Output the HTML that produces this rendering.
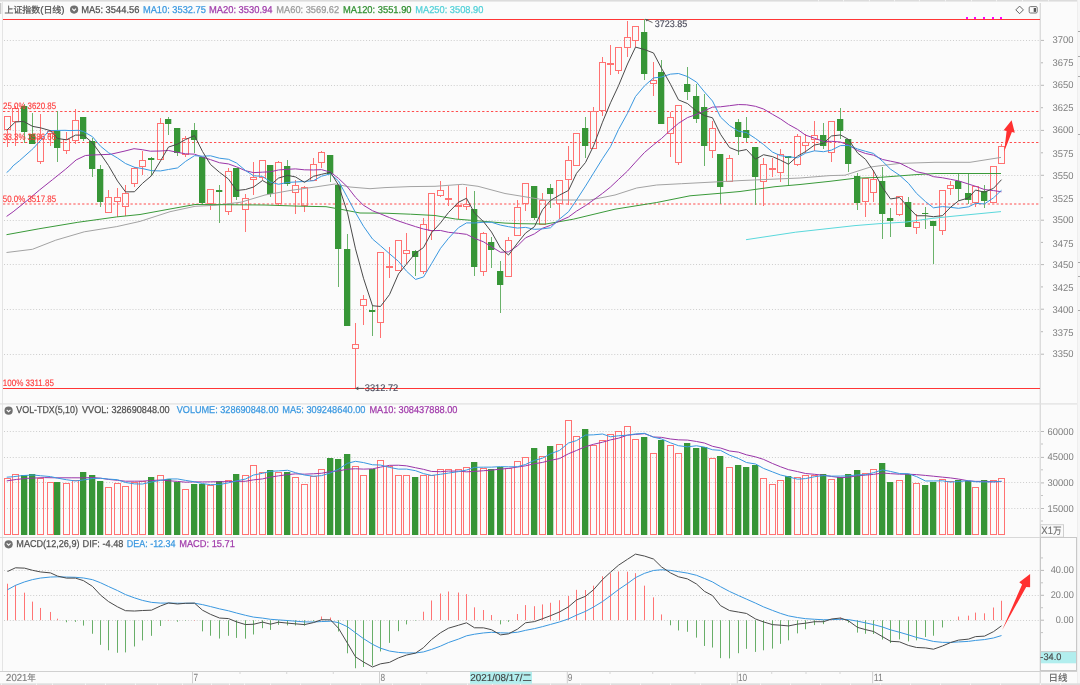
<!DOCTYPE html>
<html><head><meta charset="utf-8"><style>
html,body{margin:0;padding:0;background:#fbfbfb;}
body{width:1080px;height:685px;overflow:hidden;}
svg{display:block;}
text{font-family:"Liberation Sans","Noto Sans CJK SC",sans-serif;text-rendering:geometricPrecision;}
</style></head><body>
<svg width="1080" height="685" viewBox="0 0 1080 685" font-family="Liberation Sans, Noto Sans CJK SC, sans-serif">
<rect x="0" y="0" width="1080" height="685" fill="#fbfbfb"/>
<rect x="0" y="0" width="1080" height="1.6" fill="#dcdcdc"/>
<rect x="2" y="2" width="1" height="669" fill="#e4e4e4"/>
<rect x="0" y="3" width="1.3" height="11" fill="#c8c8c8"/>
<rect x="1039.6" y="3" width="1.4" height="682" fill="#dcdcdc"/>
<rect x="1077" y="0" width="3" height="685" fill="#f6f6f6"/>
<rect x="1077" y="0" width="1" height="685" fill="#eeeeee"/>
<rect x="1078" y="31" width="2" height="1" fill="#a8a8a8"/>
<rect x="1078" y="56" width="2" height="1" fill="#a8a8a8"/>
<rect x="1078" y="76" width="2" height="1" fill="#a8a8a8"/>
<rect x="1078" y="134" width="2" height="1" fill="#a8a8a8"/>
<rect x="1078" y="262" width="2" height="1" fill="#a8a8a8"/>
<rect x="1078" y="276" width="2" height="1" fill="#a8a8a8"/>
<rect x="1078" y="310" width="2" height="1" fill="#a8a8a8"/>
<rect x="0" y="403.3" width="1077" height="1.2" fill="#e0e0e0"/>
<rect x="0" y="537" width="1077" height="1" fill="#d8d8d8"/>
<rect x="0" y="671" width="1077" height="1" fill="#d0d0d0"/>
<rect x="0" y="683.3" width="1080" height="1.7" fill="#dedede"/>
<rect x="818" y="0" width="1" height="1.6" fill="#f2f2f2"/>
<rect x="843" y="0" width="1" height="1.6" fill="#f2f2f2"/>
<rect x="869" y="0" width="1" height="1.6" fill="#f2f2f2"/>
<rect x="894" y="0" width="1" height="1.6" fill="#f2f2f2"/>
<rect x="919" y="0" width="1" height="1.6" fill="#f2f2f2"/>
<rect x="945" y="0" width="1" height="1.6" fill="#f2f2f2"/>
<rect x="971" y="0" width="1" height="1.6" fill="#f2f2f2"/>
<rect x="996" y="0" width="1" height="1.6" fill="#f2f2f2"/>
<rect x="1022" y="0" width="1" height="1.6" fill="#f2f2f2"/>
<rect x="1048" y="0" width="1" height="1.6" fill="#f2f2f2"/>
<rect x="1" y="683.3" width="1" height="1.7" fill="#f4f4f4"/>
<rect x="36" y="683.3" width="1" height="1.7" fill="#f4f4f4"/>
<rect x="52" y="683.3" width="1" height="1.7" fill="#f4f4f4"/>
<rect x="85" y="683.3" width="1" height="1.7" fill="#f4f4f4"/>
<rect x="105" y="683.3" width="1" height="1.7" fill="#f4f4f4"/>
<rect x="135" y="683.3" width="1" height="1.7" fill="#f4f4f4"/>
<rect x="157" y="683.3" width="1" height="1.7" fill="#f4f4f4"/>
<rect x="182" y="683.3" width="1" height="1.7" fill="#f4f4f4"/>
<rect x="211" y="683.3" width="1" height="1.7" fill="#f4f4f4"/>
<rect x="229" y="683.3" width="1" height="1.7" fill="#f4f4f4"/>
<rect x="244" y="683.3" width="1" height="1.7" fill="#f4f4f4"/>
<rect x="270" y="683.3" width="1" height="1.7" fill="#f4f4f4"/>
<rect x="300" y="683.3" width="1" height="1.7" fill="#f4f4f4"/>
<rect x="330" y="683.3" width="1" height="1.7" fill="#f4f4f4"/>
<rect x="360" y="683.3" width="1" height="1.7" fill="#f4f4f4"/>
<rect x="392" y="683.3" width="1" height="1.7" fill="#f4f4f4"/>
<rect x="420" y="683.3" width="1" height="1.7" fill="#f4f4f4"/>
<rect x="467" y="683.3" width="1" height="1.7" fill="#f4f4f4"/>
<rect x="492" y="683.3" width="1" height="1.7" fill="#f4f4f4"/>
<rect x="520" y="683.3" width="1" height="1.7" fill="#f4f4f4"/>
<rect x="550" y="683.3" width="1" height="1.7" fill="#f4f4f4"/>
<rect x="580" y="683.3" width="1" height="1.7" fill="#f4f4f4"/>
<rect x="610" y="683.3" width="1" height="1.7" fill="#f4f4f4"/>
<rect x="640" y="683.3" width="1" height="1.7" fill="#f4f4f4"/>
<rect x="670" y="683.3" width="1" height="1.7" fill="#f4f4f4"/>
<rect x="700" y="683.3" width="1" height="1.7" fill="#f4f4f4"/>
<rect x="730" y="683.3" width="1" height="1.7" fill="#f4f4f4"/>
<rect x="760" y="683.3" width="1" height="1.7" fill="#f4f4f4"/>
<rect x="790" y="683.3" width="1" height="1.7" fill="#f4f4f4"/>
<rect x="820" y="683.3" width="1" height="1.7" fill="#f4f4f4"/>
<rect x="850" y="683.3" width="1" height="1.7" fill="#f4f4f4"/>
<rect x="880" y="683.3" width="1" height="1.7" fill="#f4f4f4"/>
<rect x="910" y="683.3" width="1" height="1.7" fill="#f4f4f4"/>
<rect x="940" y="683.3" width="1" height="1.7" fill="#f4f4f4"/>
<rect x="970" y="683.3" width="1" height="1.7" fill="#f4f4f4"/>
<rect x="1000" y="683.3" width="1" height="1.7" fill="#f4f4f4"/>
<rect x="1040" y="683.3" width="1" height="1.7" fill="#f4f4f4"/>
<rect x="1060" y="683.3" width="1" height="1.7" fill="#f4f4f4"/>
<line x1="4" y1="40.5" x2="1040" y2="40.5" stroke="#cdcdcd" stroke-width="1" stroke-dasharray="1 1.92"/>
<line x1="4" y1="85.5" x2="1040" y2="85.5" stroke="#cdcdcd" stroke-width="1" stroke-dasharray="1 1.92"/>
<line x1="4" y1="130.5" x2="1040" y2="130.5" stroke="#cdcdcd" stroke-width="1" stroke-dasharray="1 1.92"/>
<line x1="4" y1="175.5" x2="1040" y2="175.5" stroke="#cdcdcd" stroke-width="1" stroke-dasharray="1 1.92"/>
<line x1="4" y1="220.5" x2="1040" y2="220.5" stroke="#cdcdcd" stroke-width="1" stroke-dasharray="1 1.92"/>
<line x1="4" y1="264.5" x2="1040" y2="264.5" stroke="#cdcdcd" stroke-width="1" stroke-dasharray="1 1.92"/>
<line x1="4" y1="309.5" x2="1040" y2="309.5" stroke="#cdcdcd" stroke-width="1" stroke-dasharray="1 1.92"/>
<line x1="4" y1="354.5" x2="1040" y2="354.5" stroke="#cdcdcd" stroke-width="1" stroke-dasharray="1 1.92"/>
<rect x="1041" y="39.9" width="3" height="1" fill="#b8b8b8"/>
<rect x="1041" y="62.3" width="2" height="1" fill="#b8b8b8"/>
<rect x="1041" y="84.8" width="3" height="1" fill="#b8b8b8"/>
<rect x="1041" y="107.2" width="2" height="1" fill="#b8b8b8"/>
<rect x="1041" y="129.9" width="3" height="1" fill="#b8b8b8"/>
<rect x="1041" y="152.3" width="2" height="1" fill="#b8b8b8"/>
<rect x="1041" y="174.8" width="3" height="1" fill="#b8b8b8"/>
<rect x="1041" y="197.2" width="2" height="1" fill="#b8b8b8"/>
<rect x="1041" y="219.7" width="3" height="1" fill="#b8b8b8"/>
<rect x="1041" y="241.9" width="2" height="1" fill="#b8b8b8"/>
<rect x="1041" y="264.1" width="3" height="1" fill="#b8b8b8"/>
<rect x="1041" y="286.4" width="2" height="1" fill="#b8b8b8"/>
<rect x="1041" y="308.7" width="3" height="1" fill="#b8b8b8"/>
<rect x="1041" y="331.2" width="2" height="1" fill="#b8b8b8"/>
<rect x="1041" y="353.7" width="3" height="1" fill="#b8b8b8"/>
<rect x="3" y="19" width="1037" height="1" fill="#ff3535"/>
<rect x="3" y="388" width="1037" height="1" fill="#ff3535"/>
<line x1="3" y1="111.5" x2="1040" y2="111.5" stroke="#ff4d4d" stroke-width="1" stroke-dasharray="2.3 2.096"/>
<line x1="3" y1="142.5" x2="1040" y2="142.5" stroke="#ff4d4d" stroke-width="1" stroke-dasharray="2.3 2.096"/>
<line x1="3" y1="204.0" x2="1040" y2="204.0" stroke="#ff4d4d" stroke-width="1" stroke-dasharray="2.3 2.096"/>
<rect x="7" y="130" width="1" height="17" fill="#ff7272"/>
<rect x="4.5" y="116.5" width="6" height="13" fill="none" stroke="#ff7272" stroke-width="1"/>
<rect x="15" y="106" width="1" height="2" fill="#ff7272"/>
<rect x="15" y="122" width="1" height="24" fill="#ff7272"/>
<rect x="12.5" y="108.5" width="6" height="13" fill="none" stroke="#ff7272" stroke-width="1"/>
<rect x="24" y="104" width="1" height="39" fill="#6ab26a"/>
<rect x="21" y="106" width="6" height="26" fill="#379637"/>
<rect x="27" y="106" width="1" height="26" fill="#379637" opacity="0.3"/>
<rect x="32" y="113" width="1" height="31" fill="#6ab26a"/>
<rect x="29" y="134" width="6" height="10" fill="#379637"/>
<rect x="35" y="134" width="1" height="10" fill="#379637" opacity="0.3"/>
<rect x="40" y="114" width="1" height="24" fill="#ff7272"/>
<rect x="40" y="162" width="1" height="2" fill="#ff7272"/>
<rect x="37.5" y="138.5" width="6" height="23" fill="none" stroke="#ff7272" stroke-width="1"/>
<rect x="50" y="130" width="1" height="1" fill="#ff7272"/>
<rect x="50" y="134" width="1" height="12" fill="#ff7272"/>
<rect x="47.5" y="131.5" width="6" height="2" fill="none" stroke="#ff7272" stroke-width="1"/>
<rect x="57" y="111" width="1" height="51" fill="#6ab26a"/>
<rect x="54" y="131" width="6" height="17" fill="#379637"/>
<rect x="60" y="131" width="1" height="17" fill="#379637" opacity="0.3"/>
<rect x="66" y="132" width="1" height="7" fill="#ff7272"/>
<rect x="66" y="151" width="1" height="3" fill="#ff7272"/>
<rect x="63.5" y="139.5" width="6" height="11" fill="none" stroke="#ff7272" stroke-width="1"/>
<rect x="75" y="109" width="1" height="11" fill="#ff7272"/>
<rect x="75" y="141" width="1" height="3" fill="#ff7272"/>
<rect x="72.5" y="120.5" width="6" height="20" fill="none" stroke="#ff7272" stroke-width="1"/>
<rect x="83" y="117" width="1" height="24" fill="#6ab26a"/>
<rect x="80" y="117" width="6" height="22" fill="#379637"/>
<rect x="86" y="117" width="1" height="22" fill="#379637" opacity="0.3"/>
<rect x="92" y="138" width="1" height="39" fill="#6ab26a"/>
<rect x="89" y="141" width="6" height="28" fill="#379637"/>
<rect x="95" y="141" width="1" height="28" fill="#379637" opacity="0.3"/>
<rect x="100" y="165" width="1" height="42" fill="#6ab26a"/>
<rect x="97" y="169" width="6" height="33" fill="#379637"/>
<rect x="103" y="169" width="1" height="33" fill="#379637" opacity="0.3"/>
<rect x="108" y="190" width="1" height="7" fill="#ff7272"/>
<rect x="105.5" y="197.5" width="6" height="15" fill="none" stroke="#ff7272" stroke-width="1"/>
<rect x="117" y="188" width="1" height="9" fill="#ff7272"/>
<rect x="117" y="202" width="1" height="15" fill="#ff7272"/>
<rect x="114.5" y="197.5" width="6" height="4" fill="none" stroke="#ff7272" stroke-width="1"/>
<rect x="125" y="185" width="1" height="8" fill="#ff7272"/>
<rect x="125" y="207" width="1" height="9" fill="#ff7272"/>
<rect x="122.5" y="193.5" width="6" height="13" fill="none" stroke="#ff7272" stroke-width="1"/>
<rect x="134" y="167" width="1" height="1" fill="#ff7272"/>
<rect x="134" y="184" width="1" height="3" fill="#ff7272"/>
<rect x="131.5" y="168.5" width="6" height="15" fill="none" stroke="#ff7272" stroke-width="1"/>
<rect x="142" y="151" width="1" height="9" fill="#ff7272"/>
<rect x="142" y="167" width="1" height="8" fill="#ff7272"/>
<rect x="139.5" y="160.5" width="6" height="6" fill="none" stroke="#ff7272" stroke-width="1"/>
<rect x="151" y="157" width="1" height="19" fill="#6ab26a"/>
<rect x="148" y="158" width="6" height="2" fill="#379637"/>
<rect x="154" y="158" width="1" height="2" fill="#379637" opacity="0.3"/>
<rect x="160" y="118" width="1" height="5" fill="#ff7272"/>
<rect x="157.5" y="123.5" width="6" height="36" fill="none" stroke="#ff7272" stroke-width="1"/>
<rect x="168" y="117" width="1" height="18" fill="#6ab26a"/>
<rect x="165" y="119" width="6" height="5" fill="#379637"/>
<rect x="171" y="119" width="1" height="5" fill="#379637" opacity="0.3"/>
<rect x="177" y="128" width="1" height="28" fill="#6ab26a"/>
<rect x="174" y="128" width="6" height="25" fill="#379637"/>
<rect x="180" y="128" width="1" height="25" fill="#379637" opacity="0.3"/>
<rect x="185" y="136" width="1" height="2" fill="#ff7272"/>
<rect x="185" y="155" width="1" height="2" fill="#ff7272"/>
<rect x="182.5" y="138.5" width="6" height="16" fill="none" stroke="#ff7272" stroke-width="1"/>
<rect x="194" y="123" width="1" height="30" fill="#6ab26a"/>
<rect x="191" y="130" width="6" height="10" fill="#379637"/>
<rect x="197" y="130" width="1" height="10" fill="#379637" opacity="0.3"/>
<rect x="202" y="157" width="1" height="48" fill="#6ab26a"/>
<rect x="199" y="157" width="6" height="46" fill="#379637"/>
<rect x="205" y="157" width="1" height="46" fill="#379637" opacity="0.3"/>
<rect x="210" y="204" width="1" height="6" fill="#ff7272"/>
<rect x="207.5" y="189.5" width="6" height="14" fill="none" stroke="#ff7272" stroke-width="1"/>
<rect x="219" y="185" width="1" height="38" fill="#6ab26a"/>
<rect x="216" y="190" width="6" height="2" fill="#379637"/>
<rect x="222" y="190" width="1" height="2" fill="#379637" opacity="0.3"/>
<rect x="228" y="168" width="1" height="3" fill="#ff7272"/>
<rect x="228" y="212" width="1" height="3" fill="#ff7272"/>
<rect x="225.5" y="171.5" width="6" height="40" fill="none" stroke="#ff7272" stroke-width="1"/>
<rect x="236" y="168" width="1" height="32" fill="#6ab26a"/>
<rect x="233" y="168" width="6" height="29" fill="#379637"/>
<rect x="239" y="168" width="1" height="29" fill="#379637" opacity="0.3"/>
<rect x="245" y="194" width="1" height="4" fill="#ff7272"/>
<rect x="245" y="210" width="1" height="22" fill="#ff7272"/>
<rect x="242.5" y="198.5" width="6" height="11" fill="none" stroke="#ff7272" stroke-width="1"/>
<rect x="253" y="162" width="1" height="15" fill="#ff7272"/>
<rect x="253" y="180" width="1" height="15" fill="#ff7272"/>
<rect x="250.5" y="177.5" width="6" height="2" fill="none" stroke="#ff7272" stroke-width="1"/>
<rect x="262" y="178" width="1" height="2" fill="#ff7272"/>
<rect x="259.5" y="160.5" width="6" height="17" fill="none" stroke="#ff7272" stroke-width="1"/>
<rect x="270" y="165" width="1" height="32" fill="#6ab26a"/>
<rect x="267" y="165" width="6" height="29" fill="#379637"/>
<rect x="273" y="165" width="1" height="29" fill="#379637" opacity="0.3"/>
<rect x="278" y="161" width="1" height="1" fill="#ff7272"/>
<rect x="278" y="204" width="1" height="2" fill="#ff7272"/>
<rect x="275.5" y="162.5" width="6" height="41" fill="none" stroke="#ff7272" stroke-width="1"/>
<rect x="287" y="160" width="1" height="26" fill="#6ab26a"/>
<rect x="284" y="166" width="6" height="18" fill="#379637"/>
<rect x="290" y="166" width="1" height="18" fill="#379637" opacity="0.3"/>
<rect x="295" y="180" width="1" height="5" fill="#ff7272"/>
<rect x="295" y="193" width="1" height="21" fill="#ff7272"/>
<rect x="292.5" y="185.5" width="6" height="7" fill="none" stroke="#ff7272" stroke-width="1"/>
<rect x="304" y="186" width="1" height="1" fill="#ff7272"/>
<rect x="304" y="206" width="1" height="6" fill="#ff7272"/>
<rect x="301.5" y="187.5" width="6" height="18" fill="none" stroke="#ff7272" stroke-width="1"/>
<rect x="313" y="158" width="1" height="6" fill="#ff7272"/>
<rect x="310.5" y="164.5" width="6" height="16" fill="none" stroke="#ff7272" stroke-width="1"/>
<rect x="321" y="151" width="1" height="1" fill="#ff7272"/>
<rect x="321" y="163" width="1" height="5" fill="#ff7272"/>
<rect x="318.5" y="152.5" width="6" height="10" fill="none" stroke="#ff7272" stroke-width="1"/>
<rect x="330" y="155" width="1" height="27" fill="#6ab26a"/>
<rect x="327" y="155" width="6" height="19" fill="#379637"/>
<rect x="333" y="155" width="1" height="19" fill="#379637" opacity="0.3"/>
<rect x="338" y="185" width="1" height="102" fill="#6ab26a"/>
<rect x="335" y="185" width="6" height="64" fill="#379637"/>
<rect x="341" y="185" width="1" height="64" fill="#379637" opacity="0.3"/>
<rect x="347" y="234" width="1" height="92" fill="#6ab26a"/>
<rect x="344" y="249" width="6" height="77" fill="#379637"/>
<rect x="350" y="249" width="1" height="77" fill="#379637" opacity="0.3"/>
<rect x="355" y="323" width="1" height="21" fill="#ff7272"/>
<rect x="355" y="349" width="1" height="39" fill="#ff7272"/>
<rect x="352.5" y="344.5" width="6" height="4" fill="none" stroke="#ff7272" stroke-width="1"/>
<rect x="363" y="295" width="1" height="4" fill="#ff7272"/>
<rect x="363" y="306" width="1" height="19" fill="#ff7272"/>
<rect x="360.5" y="299.5" width="6" height="6" fill="none" stroke="#ff7272" stroke-width="1"/>
<rect x="372" y="305" width="1" height="31" fill="#6ab26a"/>
<rect x="369" y="310" width="6" height="2" fill="#379637"/>
<rect x="375" y="310" width="1" height="2" fill="#379637" opacity="0.3"/>
<rect x="380" y="323" width="1" height="15" fill="#ff7272"/>
<rect x="377.5" y="252.5" width="6" height="70" fill="none" stroke="#ff7272" stroke-width="1"/>
<rect x="389" y="247" width="1" height="19" fill="#ff7272"/>
<rect x="389" y="268" width="1" height="10" fill="#ff7272"/>
<rect x="386.5" y="266.5" width="6" height="1" fill="none" stroke="#ff7272" stroke-width="1"/>
<rect x="395.5" y="240.5" width="6" height="30" fill="none" stroke="#ff7272" stroke-width="1"/>
<rect x="406" y="233" width="1" height="17" fill="#ff7272"/>
<rect x="406" y="254" width="1" height="10" fill="#ff7272"/>
<rect x="403.5" y="250.5" width="6" height="3" fill="none" stroke="#ff7272" stroke-width="1"/>
<rect x="415" y="250" width="1" height="26" fill="#6ab26a"/>
<rect x="412" y="251" width="6" height="6" fill="#379637"/>
<rect x="418" y="251" width="1" height="6" fill="#379637" opacity="0.3"/>
<rect x="423" y="218" width="1" height="6" fill="#ff7272"/>
<rect x="423" y="272" width="1" height="2" fill="#ff7272"/>
<rect x="420.5" y="224.5" width="6" height="47" fill="none" stroke="#ff7272" stroke-width="1"/>
<rect x="431" y="231" width="1" height="9" fill="#ff7272"/>
<rect x="428.5" y="193.5" width="6" height="37" fill="none" stroke="#ff7272" stroke-width="1"/>
<rect x="440" y="181" width="1" height="9" fill="#ff7272"/>
<rect x="440" y="196" width="1" height="1" fill="#ff7272"/>
<rect x="437.5" y="190.5" width="6" height="5" fill="none" stroke="#ff7272" stroke-width="1"/>
<rect x="448" y="186" width="1" height="12" fill="#ff7272"/>
<rect x="448" y="200" width="1" height="6" fill="#ff7272"/>
<rect x="445.5" y="198.5" width="6" height="1" fill="none" stroke="#ff7272" stroke-width="1"/>
<rect x="458" y="185" width="1" height="20" fill="#ff7272"/>
<rect x="458" y="207" width="1" height="12" fill="#ff7272"/>
<rect x="455.5" y="205.5" width="6" height="1" fill="none" stroke="#ff7272" stroke-width="1"/>
<rect x="466" y="187" width="1" height="17" fill="#ff7272"/>
<rect x="466" y="207" width="1" height="3" fill="#ff7272"/>
<rect x="463.5" y="204.5" width="6" height="2" fill="none" stroke="#ff7272" stroke-width="1"/>
<rect x="474" y="191" width="1" height="85" fill="#6ab26a"/>
<rect x="471" y="209" width="6" height="58" fill="#379637"/>
<rect x="477" y="209" width="1" height="58" fill="#379637" opacity="0.3"/>
<rect x="483" y="232" width="1" height="1" fill="#ff7272"/>
<rect x="483" y="272" width="1" height="4" fill="#ff7272"/>
<rect x="480.5" y="233.5" width="6" height="38" fill="none" stroke="#ff7272" stroke-width="1"/>
<rect x="491" y="237" width="1" height="31" fill="#6ab26a"/>
<rect x="488" y="242" width="6" height="8" fill="#379637"/>
<rect x="494" y="242" width="1" height="8" fill="#379637" opacity="0.3"/>
<rect x="500" y="261" width="1" height="52" fill="#6ab26a"/>
<rect x="497" y="271" width="6" height="14" fill="#379637"/>
<rect x="503" y="271" width="1" height="14" fill="#379637" opacity="0.3"/>
<rect x="508" y="237" width="1" height="3" fill="#ff7272"/>
<rect x="505.5" y="240.5" width="6" height="36" fill="none" stroke="#ff7272" stroke-width="1"/>
<rect x="517" y="200" width="1" height="7" fill="#ff7272"/>
<rect x="514.5" y="207.5" width="6" height="28" fill="none" stroke="#ff7272" stroke-width="1"/>
<rect x="525" y="204" width="1" height="7" fill="#ff7272"/>
<rect x="522.5" y="183.5" width="6" height="20" fill="none" stroke="#ff7272" stroke-width="1"/>
<rect x="534" y="186" width="1" height="34" fill="#6ab26a"/>
<rect x="531" y="186" width="6" height="32" fill="#379637"/>
<rect x="537" y="186" width="1" height="32" fill="#379637" opacity="0.3"/>
<rect x="542" y="193" width="1" height="7" fill="#ff7272"/>
<rect x="539.5" y="200.5" width="6" height="24" fill="none" stroke="#ff7272" stroke-width="1"/>
<rect x="550" y="184" width="1" height="24" fill="#6ab26a"/>
<rect x="547" y="188" width="6" height="6" fill="#379637"/>
<rect x="553" y="188" width="1" height="6" fill="#379637" opacity="0.3"/>
<rect x="559" y="204" width="1" height="15" fill="#ff7272"/>
<rect x="556.5" y="180.5" width="6" height="23" fill="none" stroke="#ff7272" stroke-width="1"/>
<rect x="568" y="146" width="1" height="14" fill="#ff7272"/>
<rect x="568" y="180" width="1" height="25" fill="#ff7272"/>
<rect x="565.5" y="160.5" width="6" height="19" fill="none" stroke="#ff7272" stroke-width="1"/>
<rect x="573.5" y="133.5" width="6" height="32" fill="none" stroke="#ff7272" stroke-width="1"/>
<rect x="585" y="117" width="1" height="41" fill="#6ab26a"/>
<rect x="582" y="128" width="6" height="18" fill="#379637"/>
<rect x="588" y="128" width="1" height="18" fill="#379637" opacity="0.3"/>
<rect x="593" y="107" width="1" height="4" fill="#ff7272"/>
<rect x="590.5" y="111.5" width="6" height="37" fill="none" stroke="#ff7272" stroke-width="1"/>
<rect x="602" y="57" width="1" height="5" fill="#ff7272"/>
<rect x="602" y="111" width="1" height="5" fill="#ff7272"/>
<rect x="599.5" y="62.5" width="6" height="48" fill="none" stroke="#ff7272" stroke-width="1"/>
<rect x="610" y="45" width="1" height="18" fill="#ff7272"/>
<rect x="610" y="65" width="1" height="10" fill="#ff7272"/>
<rect x="607.5" y="63.5" width="6" height="1" fill="none" stroke="#ff7272" stroke-width="1"/>
<rect x="618" y="71" width="1" height="3" fill="#ff7272"/>
<rect x="615.5" y="47.5" width="6" height="23" fill="none" stroke="#ff7272" stroke-width="1"/>
<rect x="627" y="21" width="1" height="16" fill="#ff7272"/>
<rect x="627" y="48" width="1" height="9" fill="#ff7272"/>
<rect x="624.5" y="37.5" width="6" height="10" fill="none" stroke="#ff7272" stroke-width="1"/>
<rect x="635" y="41" width="1" height="6" fill="#ff7272"/>
<rect x="632.5" y="26.5" width="6" height="14" fill="none" stroke="#ff7272" stroke-width="1"/>
<rect x="644" y="19" width="1" height="61" fill="#6ab26a"/>
<rect x="641" y="32" width="6" height="42" fill="#379637"/>
<rect x="647" y="32" width="1" height="42" fill="#379637" opacity="0.3"/>
<rect x="653" y="62" width="1" height="18" fill="#ff7272"/>
<rect x="653" y="84" width="1" height="12" fill="#ff7272"/>
<rect x="650.5" y="80.5" width="6" height="3" fill="none" stroke="#ff7272" stroke-width="1"/>
<rect x="661" y="60" width="1" height="64" fill="#6ab26a"/>
<rect x="658" y="72" width="6" height="52" fill="#379637"/>
<rect x="664" y="72" width="1" height="52" fill="#379637" opacity="0.3"/>
<rect x="670" y="112" width="1" height="5" fill="#ff7272"/>
<rect x="670" y="134" width="1" height="23" fill="#ff7272"/>
<rect x="667.5" y="117.5" width="6" height="16" fill="none" stroke="#ff7272" stroke-width="1"/>
<rect x="678" y="163" width="1" height="2" fill="#ff7272"/>
<rect x="675.5" y="105.5" width="6" height="57" fill="none" stroke="#ff7272" stroke-width="1"/>
<rect x="687" y="67" width="1" height="33" fill="#6ab26a"/>
<rect x="684" y="84" width="6" height="8" fill="#379637"/>
<rect x="690" y="84" width="1" height="8" fill="#379637" opacity="0.3"/>
<rect x="696" y="84" width="1" height="39" fill="#6ab26a"/>
<rect x="693" y="96" width="6" height="23" fill="#379637"/>
<rect x="699" y="96" width="1" height="23" fill="#379637" opacity="0.3"/>
<rect x="704" y="94" width="1" height="72" fill="#6ab26a"/>
<rect x="701" y="107" width="6" height="39" fill="#379637"/>
<rect x="707" y="107" width="1" height="39" fill="#379637" opacity="0.3"/>
<rect x="712" y="121" width="1" height="7" fill="#ff7272"/>
<rect x="712" y="151" width="1" height="7" fill="#ff7272"/>
<rect x="709.5" y="128.5" width="6" height="22" fill="none" stroke="#ff7272" stroke-width="1"/>
<rect x="720" y="154" width="1" height="50" fill="#6ab26a"/>
<rect x="717" y="154" width="6" height="33" fill="#379637"/>
<rect x="723" y="154" width="1" height="33" fill="#379637" opacity="0.3"/>
<rect x="729" y="155" width="1" height="3" fill="#ff7272"/>
<rect x="726.5" y="158.5" width="6" height="23" fill="none" stroke="#ff7272" stroke-width="1"/>
<rect x="738" y="119" width="1" height="36" fill="#6ab26a"/>
<rect x="735" y="122" width="6" height="15" fill="#379637"/>
<rect x="741" y="122" width="1" height="15" fill="#379637" opacity="0.3"/>
<rect x="746" y="117" width="1" height="25" fill="#6ab26a"/>
<rect x="743" y="130" width="6" height="8" fill="#379637"/>
<rect x="749" y="130" width="1" height="8" fill="#379637" opacity="0.3"/>
<rect x="755" y="147" width="1" height="58" fill="#6ab26a"/>
<rect x="752" y="147" width="6" height="30" fill="#379637"/>
<rect x="758" y="147" width="1" height="30" fill="#379637" opacity="0.3"/>
<rect x="763" y="158" width="1" height="6" fill="#ff7272"/>
<rect x="763" y="182" width="1" height="24" fill="#ff7272"/>
<rect x="760.5" y="164.5" width="6" height="17" fill="none" stroke="#ff7272" stroke-width="1"/>
<rect x="772" y="158" width="1" height="10" fill="#ff7272"/>
<rect x="772" y="170" width="1" height="7" fill="#ff7272"/>
<rect x="769.5" y="168.5" width="6" height="1" fill="none" stroke="#ff7272" stroke-width="1"/>
<rect x="780" y="149" width="1" height="5" fill="#ff7272"/>
<rect x="780" y="173" width="1" height="9" fill="#ff7272"/>
<rect x="777.5" y="154.5" width="6" height="18" fill="none" stroke="#ff7272" stroke-width="1"/>
<rect x="788" y="156" width="1" height="29" fill="#6ab26a"/>
<rect x="785" y="156" width="6" height="2" fill="#379637"/>
<rect x="791" y="156" width="1" height="2" fill="#379637" opacity="0.3"/>
<rect x="797" y="134" width="1" height="2" fill="#ff7272"/>
<rect x="797" y="165" width="1" height="1" fill="#ff7272"/>
<rect x="794.5" y="136.5" width="6" height="28" fill="none" stroke="#ff7272" stroke-width="1"/>
<rect x="805" y="134" width="1" height="8" fill="#ff7272"/>
<rect x="805" y="146" width="1" height="7" fill="#ff7272"/>
<rect x="802.5" y="142.5" width="6" height="3" fill="none" stroke="#ff7272" stroke-width="1"/>
<rect x="814" y="121" width="1" height="14" fill="#ff7272"/>
<rect x="814" y="140" width="1" height="11" fill="#ff7272"/>
<rect x="811.5" y="135.5" width="6" height="4" fill="none" stroke="#ff7272" stroke-width="1"/>
<rect x="823" y="123" width="1" height="26" fill="#6ab26a"/>
<rect x="820" y="135" width="6" height="11" fill="#379637"/>
<rect x="826" y="135" width="1" height="11" fill="#379637" opacity="0.3"/>
<rect x="831" y="153" width="1" height="9" fill="#ff7272"/>
<rect x="828.5" y="121.5" width="6" height="31" fill="none" stroke="#ff7272" stroke-width="1"/>
<rect x="840" y="108" width="1" height="31" fill="#6ab26a"/>
<rect x="837" y="119" width="6" height="12" fill="#379637"/>
<rect x="843" y="119" width="1" height="12" fill="#379637" opacity="0.3"/>
<rect x="848" y="139" width="1" height="33" fill="#6ab26a"/>
<rect x="845" y="139" width="6" height="25" fill="#379637"/>
<rect x="851" y="139" width="1" height="25" fill="#379637" opacity="0.3"/>
<rect x="857" y="173" width="1" height="37" fill="#6ab26a"/>
<rect x="854" y="176" width="6" height="27" fill="#379637"/>
<rect x="860" y="176" width="1" height="27" fill="#379637" opacity="0.3"/>
<rect x="865" y="202" width="1" height="15" fill="#ff7272"/>
<rect x="862.5" y="178.5" width="6" height="23" fill="none" stroke="#ff7272" stroke-width="1"/>
<rect x="873" y="170" width="1" height="9" fill="#ff7272"/>
<rect x="873" y="193" width="1" height="9" fill="#ff7272"/>
<rect x="870.5" y="179.5" width="6" height="13" fill="none" stroke="#ff7272" stroke-width="1"/>
<rect x="882" y="167" width="1" height="72" fill="#6ab26a"/>
<rect x="879" y="181" width="6" height="33" fill="#379637"/>
<rect x="885" y="181" width="1" height="33" fill="#379637" opacity="0.3"/>
<rect x="890" y="208" width="1" height="29" fill="#6ab26a"/>
<rect x="887" y="218" width="6" height="3" fill="#379637"/>
<rect x="893" y="218" width="1" height="3" fill="#379637" opacity="0.3"/>
<rect x="899" y="215" width="1" height="1" fill="#ff7272"/>
<rect x="896.5" y="196.5" width="6" height="18" fill="none" stroke="#ff7272" stroke-width="1"/>
<rect x="908" y="197" width="1" height="30" fill="#6ab26a"/>
<rect x="905" y="202" width="6" height="25" fill="#379637"/>
<rect x="911" y="202" width="1" height="25" fill="#379637" opacity="0.3"/>
<rect x="916" y="214" width="1" height="8" fill="#ff7272"/>
<rect x="916" y="228" width="1" height="6" fill="#ff7272"/>
<rect x="913.5" y="222.5" width="6" height="5" fill="none" stroke="#ff7272" stroke-width="1"/>
<rect x="925" y="207" width="1" height="22" fill="#6ab26a"/>
<rect x="922" y="213" width="6" height="1" fill="#379637"/>
<rect x="928" y="213" width="1" height="1" fill="#379637" opacity="0.3"/>
<rect x="933" y="221" width="1" height="43" fill="#6ab26a"/>
<rect x="930" y="221" width="6" height="5" fill="#379637"/>
<rect x="936" y="221" width="1" height="5" fill="#379637" opacity="0.3"/>
<rect x="942" y="231" width="1" height="4" fill="#ff7272"/>
<rect x="939.5" y="190.5" width="6" height="40" fill="none" stroke="#ff7272" stroke-width="1"/>
<rect x="950" y="181" width="1" height="4" fill="#ff7272"/>
<rect x="950" y="189" width="1" height="6" fill="#ff7272"/>
<rect x="947.5" y="185.5" width="6" height="3" fill="none" stroke="#ff7272" stroke-width="1"/>
<rect x="958" y="174" width="1" height="27" fill="#6ab26a"/>
<rect x="955" y="181" width="6" height="8" fill="#379637"/>
<rect x="961" y="181" width="1" height="8" fill="#379637" opacity="0.3"/>
<rect x="968" y="174" width="1" height="30" fill="#6ab26a"/>
<rect x="965" y="193" width="6" height="7" fill="#379637"/>
<rect x="971" y="193" width="1" height="7" fill="#379637" opacity="0.3"/>
<rect x="975" y="203" width="1" height="4" fill="#ff7272"/>
<rect x="972.5" y="186.5" width="6" height="16" fill="none" stroke="#ff7272" stroke-width="1"/>
<rect x="984" y="185" width="1" height="23" fill="#6ab26a"/>
<rect x="981" y="191" width="6" height="10" fill="#379637"/>
<rect x="987" y="191" width="1" height="10" fill="#379637" opacity="0.3"/>
<rect x="990.5" y="166.5" width="6" height="36" fill="none" stroke="#ff7272" stroke-width="1"/>
<rect x="1001" y="144" width="1" height="2" fill="#ff7272"/>
<rect x="998.5" y="146.5" width="6" height="17" fill="none" stroke="#ff7272" stroke-width="1"/>
<polyline points="6.50,252.50 32.40,249.30 55.70,240.20 84.30,231.80 116.70,226.60 140.00,221.40 170.00,211.70 195.00,206.30 215.00,205.30 241.00,202.20 265.00,195.00 290.00,190.50 315.00,187.00 335.00,184.00 350.00,187.00 370.00,188.70 385.00,187.60 410.00,186.60 435.00,186.30 462.60,184.30 478.00,186.30 505.00,193.50 530.60,197.70 545.00,200.00 590.00,200.00 615.00,195.00 636.70,188.00 656.70,185.00 681.70,183.70 720.00,181.70 740.00,180.60 770.00,179.30 800.00,178.00 830.00,175.60 845.00,175.20 870.50,167.00 886.00,165.00 900.00,163.40 935.00,162.30 970.00,162.30 1001.00,157.40" fill="none" stroke="#a3a3a3" stroke-width="1.0" stroke-linejoin="round" />
<polyline points="6.50,234.70 38.90,228.80 77.80,222.30 116.70,216.90 140.00,214.50 170.00,209.00 195.00,204.50 265.00,205.00 300.00,206.20 326.00,206.70 341.00,209.30 360.00,213.00 385.00,213.20 410.60,214.20 435.00,215.50 455.40,219.00 481.00,221.10 505.00,223.10 520.40,223.70 546.00,224.00 573.30,219.20 615.00,209.20 656.70,202.50 690.00,195.80 720.00,193.30 740.00,191.50 775.00,186.70 800.00,184.50 830.00,181.30 855.50,178.20 880.80,177.30 915.00,174.70 935.00,173.50 1001.00,173.50" fill="none" stroke="#3a9a3a" stroke-width="1.0" stroke-linejoin="round" />
<polyline points="746.00,239.70 795.60,232.20 855.00,225.60 880.00,223.60 905.50,222.10 931.00,218.50 950.00,216.50 1001.00,211.60" fill="none" stroke="#5ad8dc" stroke-width="1.0" stroke-linejoin="round" />
<polyline points="6.60,216.40 13.10,211.80 26.30,201.20 39.40,190.10 52.60,179.60 65.70,169.10 76.20,159.90 85.40,155.50 92.00,155.00 110.50,154.30 125.00,151.00 134.00,148.70 142.20,149.70 150.40,151.20 160.00,151.00 168.50,150.49 177.50,152.34 185.50,153.80 194.50,154.17 202.50,157.11 210.50,159.65 219.50,162.74 228.50,163.94 236.50,166.83 245.50,170.71 253.50,172.61 262.50,172.17 270.50,171.74 278.50,169.96 287.50,169.31 295.50,168.88 304.50,169.82 313.50,169.98 321.50,169.61 330.50,172.16 338.50,178.38 347.50,187.00 355.50,197.31 363.50,205.28 372.50,210.72 380.50,213.88 389.50,217.57 398.50,221.02 406.50,223.69 415.50,226.62 423.50,229.01 431.50,230.65 440.50,230.48 448.50,232.30 458.50,233.34 466.50,234.34 474.50,238.33 483.50,241.82 491.50,246.72 500.50,252.26 508.50,251.85 517.50,245.89 525.50,237.88 534.50,233.81 542.50,228.26 550.50,225.33 559.50,221.03 568.50,217.01 576.50,211.14 585.50,205.61 593.50,199.93 602.50,193.37 610.50,187.00 618.50,179.44 627.50,171.04 635.50,162.15 644.50,152.48 653.50,144.84 661.50,138.50 670.50,130.13 678.50,123.34 687.50,117.60 696.50,114.37 704.50,110.75 712.50,107.14 720.50,106.80 729.50,105.70 738.50,104.55 746.50,104.79 755.50,106.32 763.50,109.00 772.50,114.32 780.50,118.88 788.50,124.42 797.50,129.37 805.50,135.12 814.50,138.19 823.50,141.46 831.50,141.34 840.50,142.05 848.50,145.00 857.50,150.53 865.50,153.47 873.50,155.17 882.50,159.47 890.50,161.17 899.50,163.03 908.50,167.53 916.50,171.72 925.50,173.60 933.50,176.66 942.50,177.78 950.50,179.31 958.50,180.88 968.50,184.04 975.50,186.28 984.50,189.57 993.50,190.57 1001.50,191.81" fill="none" stroke="#9a35a8" stroke-width="1.0" stroke-linejoin="round" />
<polyline points="6.60,172.60 9.70,170.00 13.10,165.80 19.70,160.50 31.50,150.00 33.70,148.00 42.90,137.80 49.00,130.60 65.00,130.30 70.00,130.60 78.30,130.30 83.50,131.51 92.50,136.76 100.50,146.16 108.50,152.68 117.50,158.03 125.50,163.53 134.50,167.28 142.50,168.57 151.50,170.65 160.50,170.93 168.50,169.47 177.50,167.93 185.50,161.44 194.50,155.66 202.50,156.19 210.50,155.77 219.50,158.21 228.50,159.31 236.50,163.01 245.50,170.50 253.50,175.76 262.50,176.41 270.50,182.03 278.50,184.27 287.50,182.44 295.50,181.99 304.50,181.44 313.50,180.65 321.50,176.21 330.50,173.82 338.50,181.01 347.50,197.60 355.50,212.58 363.50,226.30 372.50,239.01 380.50,245.78 389.50,253.71 398.50,261.38 406.50,271.18 415.50,279.43 423.50,277.01 431.50,263.71 440.50,248.39 448.50,238.31 458.50,227.68 466.50,222.90 474.50,222.96 483.50,222.26 491.50,222.27 500.50,225.09 508.50,226.68 517.50,228.07 525.50,227.37 534.50,229.32 542.50,228.85 550.50,227.76 559.50,219.10 568.50,211.76 576.50,200.00 585.50,186.12 593.50,173.18 602.50,158.66 610.50,146.63 618.50,129.56 627.50,113.24 635.50,96.53 644.50,85.86 653.50,77.91 661.50,77.00 670.50,74.13 678.50,73.51 687.50,76.55 696.50,82.11 704.50,91.94 712.50,101.04 720.50,117.07 729.50,125.55 738.50,131.19 746.50,132.58 755.50,138.51 763.50,144.48 772.50,152.09 780.50,155.66 788.50,156.89 797.50,157.70 805.50,153.17 814.50,150.83 823.50,151.72 831.50,150.10 840.50,145.58 848.50,145.51 857.50,148.97 865.50,151.29 873.50,153.45 882.50,161.24 890.50,169.17 899.50,175.22 908.50,183.33 916.50,193.35 925.50,201.63 933.50,207.82 942.50,206.59 950.50,207.32 958.50,208.31 968.50,206.83 975.50,203.38 984.50,203.92 993.50,197.80 1001.50,190.26" fill="none" stroke="#3a98e0" stroke-width="1.0" stroke-linejoin="round" />
<polyline points="6.60,130.40 15.30,122.00 23.50,121.40 32.70,126.40 40.50,127.84 50.50,130.70 57.50,138.50 66.50,139.82 75.50,135.10 83.50,135.18 92.50,142.82 100.50,153.82 108.50,165.54 117.50,180.96 125.50,191.88 134.50,191.74 142.50,183.32 151.50,175.76 160.50,160.90 168.50,147.06 177.50,144.12 185.50,139.56 194.50,135.56 202.50,151.48 210.50,164.48 219.50,172.30 228.50,179.06 236.50,190.46 245.50,189.52 253.50,187.04 262.50,180.52 270.50,185.00 278.50,178.08 287.50,175.36 295.50,176.94 304.50,182.36 313.50,176.30 321.50,174.34 330.50,172.28 338.50,185.08 347.50,212.84 355.50,248.86 363.50,278.26 372.50,305.74 380.50,306.48 389.50,294.58 398.50,273.90 406.50,264.10 415.50,253.12 423.50,247.54 431.50,232.84 440.50,222.88 448.50,212.52 458.50,202.24 466.50,198.26 474.50,213.08 483.50,221.64 491.50,232.02 500.50,247.94 508.50,255.10 517.50,243.06 525.50,233.10 534.50,226.62 542.50,209.76 550.50,200.42 559.50,195.14 568.50,190.42 576.50,173.38 585.50,162.48 593.50,145.94 602.50,122.18 610.50,102.84 618.50,85.74 627.50,64.00 635.50,47.12 644.50,49.54 653.50,52.98 661.50,68.26 670.50,84.26 678.50,99.90 687.50,103.56 696.50,111.24 704.50,115.62 712.50,117.82 720.50,134.24 729.50,147.54 738.50,151.14 746.50,149.54 755.50,159.20 763.50,154.72 772.50,156.64 780.50,160.18 788.50,164.24 797.50,156.20 805.50,151.62 814.50,145.02 823.50,143.26 831.50,135.96 840.50,134.96 848.50,139.40 857.50,152.92 865.50,159.32 873.50,170.94 882.50,187.52 890.50,198.94 899.50,197.52 908.50,207.34 916.50,215.76 925.50,215.74 933.50,216.70 942.50,215.66 950.50,207.30 958.50,200.86 968.50,197.92 975.50,190.06 984.50,192.18 993.50,188.30 1001.50,179.66" fill="none" stroke="#4a4a4a" stroke-width="1.0" stroke-linejoin="round" />
<path d="M645.6,19.3 L652.5,22.6" stroke="#555" stroke-width="0.9" fill="none"/>
<path d="M645.3,19 L648.6,19.6 L646.6,21.6 Z" fill="#555"/>
<path d="M355.5,388.4 L364,388.4" stroke="#555" stroke-width="0.9" fill="none"/>
<path d="M355.3,388.4 L358.3,386.6 L358.3,390.2 Z" fill="#555"/>
<polygon points="1011.6,120.2 1014.8,132.8 1011.9,132.0 1004.2,151.5 1006.6,131.0 1003.6,130.3" fill="#ff3030"/>
<rect x="966" y="17" width="2" height="2" fill="#ff00ff"/>
<rect x="974" y="17" width="2" height="2" fill="#ff00ff"/>
<rect x="983" y="17" width="2" height="2" fill="#ff00ff"/>
<rect x="992" y="17" width="2" height="2" fill="#ff00ff"/>
<rect x="1000" y="17" width="2" height="2" fill="#ff00ff"/>
<path d="M1019.6,6.1 L1023.4,9.9 L1019.6,13.7 L1015.8,9.9 Z" fill="none" stroke="#555" stroke-width="0.9"/>
<rect x="1029.2" y="6.6" width="8" height="6.4" rx="1.2" fill="none" stroke="#666" stroke-width="0.9"/>
<rect x="1033.7" y="8" width="2.3" height="3.9" fill="#555"/>
<g font-size="9.4">
<circle cx="74.1" cy="9.6" r="4.1" fill="#707070"/>
<path d="M72.2,8.7 L74.1,10.6 L76,8.7" stroke="#fff" stroke-width="1.1" fill="none"/>
</g>
<line x1="4" y1="431.5" x2="1040" y2="431.5" stroke="#cdcdcd" stroke-width="1" stroke-dasharray="1 1.92"/>
<line x1="4" y1="457.5" x2="1040" y2="457.5" stroke="#cdcdcd" stroke-width="1" stroke-dasharray="1 1.92"/>
<line x1="4" y1="482.5" x2="1040" y2="482.5" stroke="#cdcdcd" stroke-width="1" stroke-dasharray="1 1.92"/>
<line x1="4" y1="508.5" x2="1040" y2="508.5" stroke="#cdcdcd" stroke-width="1" stroke-dasharray="1 1.92"/>
<rect x="1041" y="431.0" width="3" height="1" fill="#b8b8b8"/>
<rect x="1041" y="456.9" width="3" height="1" fill="#b8b8b8"/>
<rect x="1041" y="482.4" width="3" height="1" fill="#b8b8b8"/>
<rect x="1041" y="508.0" width="3" height="1" fill="#b8b8b8"/>
<rect x="1041" y="443.5" width="2" height="1" fill="#c4c4c4"/>
<rect x="1041" y="469.3" width="2" height="1" fill="#c4c4c4"/>
<rect x="1041" y="495.0" width="2" height="1" fill="#c4c4c4"/>
<rect x="1041" y="520.5" width="2" height="1" fill="#c4c4c4"/>
<rect x="4.5" y="478.5" width="6" height="56" fill="none" stroke="#ff7272" stroke-width="1"/>
<rect x="12.5" y="474.5" width="6" height="60" fill="none" stroke="#ff7272" stroke-width="1"/>
<rect x="21" y="475" width="6" height="60" fill="#379637"/>
<rect x="27" y="475" width="1" height="60" fill="#379637" opacity="0.3"/>
<rect x="29" y="474" width="6" height="61" fill="#379637"/>
<rect x="35" y="474" width="1" height="61" fill="#379637" opacity="0.3"/>
<rect x="37.5" y="478.5" width="6" height="56" fill="none" stroke="#ff7272" stroke-width="1"/>
<rect x="47.5" y="482.5" width="6" height="52" fill="none" stroke="#ff7272" stroke-width="1"/>
<rect x="54" y="482" width="6" height="53" fill="#379637"/>
<rect x="60" y="482" width="1" height="53" fill="#379637" opacity="0.3"/>
<rect x="63.5" y="483.5" width="6" height="51" fill="none" stroke="#ff7272" stroke-width="1"/>
<rect x="72.5" y="480.5" width="6" height="54" fill="none" stroke="#ff7272" stroke-width="1"/>
<rect x="80" y="472" width="6" height="63" fill="#379637"/>
<rect x="86" y="472" width="1" height="63" fill="#379637" opacity="0.3"/>
<rect x="89" y="475" width="6" height="60" fill="#379637"/>
<rect x="95" y="475" width="1" height="60" fill="#379637" opacity="0.3"/>
<rect x="97" y="481" width="6" height="54" fill="#379637"/>
<rect x="103" y="481" width="1" height="54" fill="#379637" opacity="0.3"/>
<rect x="105.5" y="487.5" width="6" height="47" fill="none" stroke="#ff7272" stroke-width="1"/>
<rect x="114.5" y="483.5" width="6" height="51" fill="none" stroke="#ff7272" stroke-width="1"/>
<rect x="122.5" y="486.5" width="6" height="48" fill="none" stroke="#ff7272" stroke-width="1"/>
<rect x="131.5" y="482.5" width="6" height="52" fill="none" stroke="#ff7272" stroke-width="1"/>
<rect x="139.5" y="481.5" width="6" height="53" fill="none" stroke="#ff7272" stroke-width="1"/>
<rect x="148" y="477" width="6" height="58" fill="#379637"/>
<rect x="154" y="477" width="1" height="58" fill="#379637" opacity="0.3"/>
<rect x="157.5" y="475.5" width="6" height="59" fill="none" stroke="#ff7272" stroke-width="1"/>
<rect x="165" y="479" width="6" height="56" fill="#379637"/>
<rect x="171" y="479" width="1" height="56" fill="#379637" opacity="0.3"/>
<rect x="174" y="482" width="6" height="53" fill="#379637"/>
<rect x="180" y="482" width="1" height="53" fill="#379637" opacity="0.3"/>
<rect x="182.5" y="489.5" width="6" height="45" fill="none" stroke="#ff7272" stroke-width="1"/>
<rect x="191" y="484" width="6" height="51" fill="#379637"/>
<rect x="197" y="484" width="1" height="51" fill="#379637" opacity="0.3"/>
<rect x="199" y="484" width="6" height="51" fill="#379637"/>
<rect x="205" y="484" width="1" height="51" fill="#379637" opacity="0.3"/>
<rect x="207.5" y="485.5" width="6" height="49" fill="none" stroke="#ff7272" stroke-width="1"/>
<rect x="216" y="481" width="6" height="54" fill="#379637"/>
<rect x="222" y="481" width="1" height="54" fill="#379637" opacity="0.3"/>
<rect x="225.5" y="480.5" width="6" height="54" fill="none" stroke="#ff7272" stroke-width="1"/>
<rect x="233" y="474" width="6" height="61" fill="#379637"/>
<rect x="239" y="474" width="1" height="61" fill="#379637" opacity="0.3"/>
<rect x="242.5" y="475.5" width="6" height="59" fill="none" stroke="#ff7272" stroke-width="1"/>
<rect x="250.5" y="465.5" width="6" height="69" fill="none" stroke="#ff7272" stroke-width="1"/>
<rect x="259.5" y="472.5" width="6" height="62" fill="none" stroke="#ff7272" stroke-width="1"/>
<rect x="267" y="470" width="6" height="65" fill="#379637"/>
<rect x="273" y="470" width="1" height="65" fill="#379637" opacity="0.3"/>
<rect x="275.5" y="472.5" width="6" height="62" fill="none" stroke="#ff7272" stroke-width="1"/>
<rect x="284" y="472" width="6" height="63" fill="#379637"/>
<rect x="290" y="472" width="1" height="63" fill="#379637" opacity="0.3"/>
<rect x="292.5" y="477.5" width="6" height="57" fill="none" stroke="#ff7272" stroke-width="1"/>
<rect x="301.5" y="484.5" width="6" height="50" fill="none" stroke="#ff7272" stroke-width="1"/>
<rect x="310.5" y="476.5" width="6" height="58" fill="none" stroke="#ff7272" stroke-width="1"/>
<rect x="318.5" y="469.5" width="6" height="65" fill="none" stroke="#ff7272" stroke-width="1"/>
<rect x="327" y="458" width="6" height="77" fill="#379637"/>
<rect x="333" y="458" width="1" height="77" fill="#379637" opacity="0.3"/>
<rect x="335" y="459" width="6" height="76" fill="#379637"/>
<rect x="341" y="459" width="1" height="76" fill="#379637" opacity="0.3"/>
<rect x="344" y="454" width="6" height="81" fill="#379637"/>
<rect x="350" y="454" width="1" height="81" fill="#379637" opacity="0.3"/>
<rect x="352.5" y="466.5" width="6" height="68" fill="none" stroke="#ff7272" stroke-width="1"/>
<rect x="360.5" y="475.5" width="6" height="59" fill="none" stroke="#ff7272" stroke-width="1"/>
<rect x="369" y="469" width="6" height="66" fill="#379637"/>
<rect x="375" y="469" width="1" height="66" fill="#379637" opacity="0.3"/>
<rect x="377.5" y="460.5" width="6" height="74" fill="none" stroke="#ff7272" stroke-width="1"/>
<rect x="386.5" y="466.5" width="6" height="68" fill="none" stroke="#ff7272" stroke-width="1"/>
<rect x="395.5" y="475.5" width="6" height="59" fill="none" stroke="#ff7272" stroke-width="1"/>
<rect x="403.5" y="475.5" width="6" height="59" fill="none" stroke="#ff7272" stroke-width="1"/>
<rect x="412" y="477" width="6" height="58" fill="#379637"/>
<rect x="418" y="477" width="1" height="58" fill="#379637" opacity="0.3"/>
<rect x="420.5" y="475.5" width="6" height="59" fill="none" stroke="#ff7272" stroke-width="1"/>
<rect x="428.5" y="475.5" width="6" height="59" fill="none" stroke="#ff7272" stroke-width="1"/>
<rect x="437.5" y="469.5" width="6" height="65" fill="none" stroke="#ff7272" stroke-width="1"/>
<rect x="445.5" y="469.5" width="6" height="65" fill="none" stroke="#ff7272" stroke-width="1"/>
<rect x="455.5" y="469.5" width="6" height="65" fill="none" stroke="#ff7272" stroke-width="1"/>
<rect x="463.5" y="467.5" width="6" height="67" fill="none" stroke="#ff7272" stroke-width="1"/>
<rect x="471" y="462" width="6" height="73" fill="#379637"/>
<rect x="477" y="462" width="1" height="73" fill="#379637" opacity="0.3"/>
<rect x="480.5" y="468.5" width="6" height="66" fill="none" stroke="#ff7272" stroke-width="1"/>
<rect x="488" y="469" width="6" height="66" fill="#379637"/>
<rect x="494" y="469" width="1" height="66" fill="#379637" opacity="0.3"/>
<rect x="497" y="467" width="6" height="68" fill="#379637"/>
<rect x="503" y="467" width="1" height="68" fill="#379637" opacity="0.3"/>
<rect x="505.5" y="468.5" width="6" height="66" fill="none" stroke="#ff7272" stroke-width="1"/>
<rect x="514.5" y="461.5" width="6" height="73" fill="none" stroke="#ff7272" stroke-width="1"/>
<rect x="522.5" y="457.5" width="6" height="77" fill="none" stroke="#ff7272" stroke-width="1"/>
<rect x="531" y="448" width="6" height="87" fill="#379637"/>
<rect x="537" y="448" width="1" height="87" fill="#379637" opacity="0.3"/>
<rect x="539.5" y="456.5" width="6" height="78" fill="none" stroke="#ff7272" stroke-width="1"/>
<rect x="547" y="446" width="6" height="89" fill="#379637"/>
<rect x="553" y="446" width="1" height="89" fill="#379637" opacity="0.3"/>
<rect x="556.5" y="444.5" width="6" height="90" fill="none" stroke="#ff7272" stroke-width="1"/>
<rect x="565.5" y="420.5" width="6" height="114" fill="none" stroke="#ff7272" stroke-width="1"/>
<rect x="573.5" y="436.5" width="6" height="98" fill="none" stroke="#ff7272" stroke-width="1"/>
<rect x="582" y="429" width="6" height="106" fill="#379637"/>
<rect x="588" y="429" width="1" height="106" fill="#379637" opacity="0.3"/>
<rect x="590.5" y="445.5" width="6" height="89" fill="none" stroke="#ff7272" stroke-width="1"/>
<rect x="599.5" y="440.5" width="6" height="94" fill="none" stroke="#ff7272" stroke-width="1"/>
<rect x="607.5" y="434.5" width="6" height="100" fill="none" stroke="#ff7272" stroke-width="1"/>
<rect x="615.5" y="431.5" width="6" height="103" fill="none" stroke="#ff7272" stroke-width="1"/>
<rect x="624.5" y="426.5" width="6" height="108" fill="none" stroke="#ff7272" stroke-width="1"/>
<rect x="632.5" y="439.5" width="6" height="95" fill="none" stroke="#ff7272" stroke-width="1"/>
<rect x="641" y="437" width="6" height="98" fill="#379637"/>
<rect x="647" y="437" width="1" height="98" fill="#379637" opacity="0.3"/>
<rect x="650.5" y="453.5" width="6" height="81" fill="none" stroke="#ff7272" stroke-width="1"/>
<rect x="658" y="440" width="6" height="95" fill="#379637"/>
<rect x="664" y="440" width="1" height="95" fill="#379637" opacity="0.3"/>
<rect x="667.5" y="445.5" width="6" height="89" fill="none" stroke="#ff7272" stroke-width="1"/>
<rect x="675.5" y="453.5" width="6" height="81" fill="none" stroke="#ff7272" stroke-width="1"/>
<rect x="684" y="443" width="6" height="92" fill="#379637"/>
<rect x="690" y="443" width="1" height="92" fill="#379637" opacity="0.3"/>
<rect x="693" y="448" width="6" height="87" fill="#379637"/>
<rect x="699" y="448" width="1" height="87" fill="#379637" opacity="0.3"/>
<rect x="701" y="447" width="6" height="88" fill="#379637"/>
<rect x="707" y="447" width="1" height="88" fill="#379637" opacity="0.3"/>
<rect x="709.5" y="458.5" width="6" height="76" fill="none" stroke="#ff7272" stroke-width="1"/>
<rect x="717" y="456" width="6" height="79" fill="#379637"/>
<rect x="723" y="456" width="1" height="79" fill="#379637" opacity="0.3"/>
<rect x="726.5" y="467.5" width="6" height="67" fill="none" stroke="#ff7272" stroke-width="1"/>
<rect x="735" y="465" width="6" height="70" fill="#379637"/>
<rect x="741" y="465" width="1" height="70" fill="#379637" opacity="0.3"/>
<rect x="743" y="467" width="6" height="68" fill="#379637"/>
<rect x="749" y="467" width="1" height="68" fill="#379637" opacity="0.3"/>
<rect x="752" y="465" width="6" height="70" fill="#379637"/>
<rect x="758" y="465" width="1" height="70" fill="#379637" opacity="0.3"/>
<rect x="760.5" y="478.5" width="6" height="56" fill="none" stroke="#ff7272" stroke-width="1"/>
<rect x="769.5" y="484.5" width="6" height="50" fill="none" stroke="#ff7272" stroke-width="1"/>
<rect x="777.5" y="480.5" width="6" height="54" fill="none" stroke="#ff7272" stroke-width="1"/>
<rect x="785" y="476" width="6" height="59" fill="#379637"/>
<rect x="791" y="476" width="1" height="59" fill="#379637" opacity="0.3"/>
<rect x="794.5" y="477.5" width="6" height="57" fill="none" stroke="#ff7272" stroke-width="1"/>
<rect x="802.5" y="475.5" width="6" height="59" fill="none" stroke="#ff7272" stroke-width="1"/>
<rect x="811.5" y="475.5" width="6" height="59" fill="none" stroke="#ff7272" stroke-width="1"/>
<rect x="820" y="474" width="6" height="61" fill="#379637"/>
<rect x="826" y="474" width="1" height="61" fill="#379637" opacity="0.3"/>
<rect x="828.5" y="479.5" width="6" height="55" fill="none" stroke="#ff7272" stroke-width="1"/>
<rect x="837" y="477" width="6" height="58" fill="#379637"/>
<rect x="843" y="477" width="1" height="58" fill="#379637" opacity="0.3"/>
<rect x="845" y="474" width="6" height="61" fill="#379637"/>
<rect x="851" y="474" width="1" height="61" fill="#379637" opacity="0.3"/>
<rect x="854" y="470" width="6" height="65" fill="#379637"/>
<rect x="860" y="470" width="1" height="65" fill="#379637" opacity="0.3"/>
<rect x="862.5" y="473.5" width="6" height="61" fill="none" stroke="#ff7272" stroke-width="1"/>
<rect x="870.5" y="469.5" width="6" height="65" fill="none" stroke="#ff7272" stroke-width="1"/>
<rect x="879" y="463" width="6" height="72" fill="#379637"/>
<rect x="885" y="463" width="1" height="72" fill="#379637" opacity="0.3"/>
<rect x="887" y="482" width="6" height="53" fill="#379637"/>
<rect x="893" y="482" width="1" height="53" fill="#379637" opacity="0.3"/>
<rect x="896.5" y="480.5" width="6" height="54" fill="none" stroke="#ff7272" stroke-width="1"/>
<rect x="905" y="474" width="6" height="61" fill="#379637"/>
<rect x="911" y="474" width="1" height="61" fill="#379637" opacity="0.3"/>
<rect x="913.5" y="483.5" width="6" height="51" fill="none" stroke="#ff7272" stroke-width="1"/>
<rect x="922" y="485" width="6" height="50" fill="#379637"/>
<rect x="928" y="485" width="1" height="50" fill="#379637" opacity="0.3"/>
<rect x="930" y="482" width="6" height="53" fill="#379637"/>
<rect x="936" y="482" width="1" height="53" fill="#379637" opacity="0.3"/>
<rect x="939.5" y="479.5" width="6" height="55" fill="none" stroke="#ff7272" stroke-width="1"/>
<rect x="947.5" y="481.5" width="6" height="53" fill="none" stroke="#ff7272" stroke-width="1"/>
<rect x="955" y="480" width="6" height="55" fill="#379637"/>
<rect x="961" y="480" width="1" height="55" fill="#379637" opacity="0.3"/>
<rect x="965" y="481" width="6" height="54" fill="#379637"/>
<rect x="971" y="481" width="1" height="54" fill="#379637" opacity="0.3"/>
<rect x="972.5" y="487.5" width="6" height="47" fill="none" stroke="#ff7272" stroke-width="1"/>
<rect x="981" y="480" width="6" height="55" fill="#379637"/>
<rect x="987" y="480" width="1" height="55" fill="#379637" opacity="0.3"/>
<rect x="990.5" y="480.5" width="6" height="54" fill="none" stroke="#ff7272" stroke-width="1"/>
<rect x="998.5" y="478.5" width="6" height="56" fill="none" stroke="#ff7272" stroke-width="1"/>
<polyline points="6.70,480.90 16.70,479.40 27.80,478.30 44.40,477.60 55.60,477.80 71.10,477.80 83.50,477.83 92.50,477.55 100.50,478.19 108.50,479.41 117.50,480.34 125.50,481.21 134.50,481.20 142.50,481.14 151.50,480.53 160.50,480.03 168.50,480.73 177.50,481.42 185.50,482.20 194.50,481.89 202.50,481.95 210.50,481.84 219.50,481.73 228.50,481.62 236.50,481.33 245.50,481.29 253.50,479.87 262.50,478.92 270.50,477.09 278.50,475.87 287.50,474.65 295.50,473.85 304.50,474.18 313.50,473.78 321.50,473.26 330.50,471.59 338.50,470.96 347.50,469.16 355.50,468.77 363.50,469.11 372.50,468.85 380.50,467.15 389.50,465.35 398.50,465.22 406.50,465.83 415.50,467.72 423.50,469.33 431.50,471.44 440.50,471.71 448.50,471.09 458.50,471.12 466.50,471.84 474.50,471.40 483.50,470.73 491.50,470.12 500.50,469.11 508.50,468.44 517.50,467.02 525.50,465.83 534.50,463.73 542.50,462.42 550.50,460.29 559.50,458.57 568.50,453.74 576.50,450.46 585.50,446.63 593.50,444.30 602.50,442.22 610.50,439.89 618.50,438.19 627.50,435.12 635.50,434.40 644.50,433.67 653.50,436.98 661.50,437.37 670.50,439.01 678.50,439.83 687.50,440.08 696.50,441.47 704.50,443.05 712.50,446.29 720.50,448.03 729.50,450.98 738.50,452.14 746.50,454.83 755.50,456.86 763.50,459.37 772.50,463.51 780.50,466.75 788.50,469.67 797.50,471.59 805.50,473.49 814.50,474.30 823.50,475.25 831.50,476.47 840.50,477.64 848.50,477.23 857.50,475.79 865.50,475.10 873.50,474.40 882.50,472.98 890.50,473.65 899.50,474.18 908.50,474.21 916.50,474.63 925.50,475.43 933.50,476.21 942.50,477.15 950.50,477.93 958.50,479.05 968.50,480.84 975.50,481.36 984.50,481.38 993.50,481.93 1001.50,481.41" fill="none" stroke="#9a35a8" stroke-width="1.0" stroke-linejoin="round" />
<polyline points="6.70,477.20 13.30,476.70 22.20,475.60 33.30,475.00 40.50,475.72 50.50,476.60 57.50,478.12 66.50,479.74 75.50,480.98 83.50,479.94 92.50,478.50 100.50,478.26 108.50,479.08 117.50,479.70 125.50,482.48 134.50,483.90 142.50,484.02 151.50,481.98 160.50,480.36 168.50,478.98 177.50,478.94 185.50,480.38 194.50,481.80 202.50,483.54 210.50,484.70 219.50,484.52 228.50,482.86 236.50,480.86 245.50,479.04 253.50,475.04 262.50,473.32 270.50,471.32 278.50,470.88 287.50,470.26 295.50,472.66 304.50,475.04 313.50,476.24 321.50,475.64 330.50,472.92 338.50,469.26 347.50,463.28 355.50,461.30 363.50,462.58 372.50,464.78 380.50,465.04 389.50,467.42 398.50,469.14 406.50,469.08 415.50,470.66 423.50,473.62 431.50,475.46 440.50,474.28 448.50,473.10 458.50,471.58 466.50,470.06 474.50,467.34 483.50,467.18 491.50,467.14 500.50,466.64 508.50,466.82 517.50,466.70 525.50,464.48 534.50,460.32 542.50,458.20 550.50,453.76 559.50,450.44 568.50,443.00 576.50,440.60 585.50,435.06 593.50,434.84 602.50,434.00 610.50,436.78 618.50,435.78 627.50,435.18 635.50,433.96 644.50,433.34 653.50,437.18 661.50,438.96 670.50,442.84 678.50,445.70 687.50,446.82 696.50,445.76 704.50,447.14 712.50,449.74 720.50,450.36 729.50,455.14 738.50,458.52 746.50,462.52 755.50,463.98 763.50,468.38 772.50,471.88 780.50,474.98 788.50,476.82 797.50,479.20 805.50,478.60 814.50,476.72 823.50,475.52 831.50,476.12 840.50,476.08 848.50,475.86 857.50,474.86 865.50,474.68 873.50,472.68 882.50,469.88 890.50,471.44 899.50,473.50 908.50,473.74 916.50,476.58 925.50,480.98 933.50,480.98 942.50,480.80 950.50,482.12 958.50,481.52 968.50,480.70 975.50,481.74 984.50,481.96 993.50,481.74 1001.50,481.30" fill="none" stroke="#3a98e0" stroke-width="1.0" stroke-linejoin="round" />
<rect x="1040.5" y="524.7" width="23" height="12.5" fill="#fafafa" stroke="#cfcfcf" stroke-width="1"/>
<circle cx="8.6" cy="410.7" r="4.1" fill="#707070"/>
<path d="M6.7,409.8 L8.6,411.7 L10.5,409.8" stroke="#fff" stroke-width="1.1" fill="none"/>
<line x1="4" y1="570.5" x2="1040" y2="570.5" stroke="#cdcdcd" stroke-width="1" stroke-dasharray="1 1.92"/>
<line x1="4" y1="595.5" x2="1040" y2="595.5" stroke="#cdcdcd" stroke-width="1" stroke-dasharray="1 1.92"/>
<line x1="4" y1="620.5" x2="1040" y2="620.5" stroke="#cdcdcd" stroke-width="1" stroke-dasharray="1 1.92"/>
<rect x="1040.5" y="537.5" width="36" height="133" fill="none" stroke="#c8c8c8" stroke-width="1"/>
<rect x="1041" y="569.9" width="3" height="1" fill="#b8b8b8"/>
<rect x="1041" y="594.8" width="3" height="1" fill="#b8b8b8"/>
<rect x="1041" y="619.7" width="3" height="1" fill="#b8b8b8"/>
<rect x="1041" y="557.4" width="2" height="1" fill="#c4c4c4"/>
<rect x="1041" y="582.3" width="2" height="1" fill="#c4c4c4"/>
<rect x="1041" y="607.2" width="2" height="1" fill="#c4c4c4"/>
<rect x="1041" y="632.1" width="2" height="1" fill="#c4c4c4"/>
<rect x="7" y="583.73" width="1" height="36.47" fill="#ff7474"/>
<rect x="15" y="585.12" width="1" height="35.08" fill="#ff7474"/>
<rect x="24" y="592.67" width="1" height="27.53" fill="#ff7474"/>
<rect x="32" y="601.62" width="1" height="18.58" fill="#ff7474"/>
<rect x="40" y="607.94" width="1" height="12.26" fill="#ff7474"/>
<rect x="50" y="611.96" width="1" height="8.24" fill="#ff7474"/>
<rect x="57" y="618.69" width="1" height="1.51" fill="#ff7474"/>
<rect x="66" y="620.20" width="1" height="2.03" fill="#68ae68"/>
<rect x="75" y="620.20" width="1" height="1.66" fill="#68ae68"/>
<rect x="83" y="620.20" width="1" height="5.38" fill="#68ae68"/>
<rect x="92" y="620.20" width="1" height="13.53" fill="#68ae68"/>
<rect x="100" y="620.20" width="1" height="24.64" fill="#68ae68"/>
<rect x="108" y="620.20" width="1" height="30.09" fill="#68ae68"/>
<rect x="117" y="620.20" width="1" height="32.55" fill="#68ae68"/>
<rect x="125" y="620.20" width="1" height="32.19" fill="#68ae68"/>
<rect x="134" y="620.20" width="1" height="26.29" fill="#68ae68"/>
<rect x="142" y="620.20" width="1" height="20.25" fill="#68ae68"/>
<rect x="151" y="620.20" width="1" height="15.62" fill="#68ae68"/>
<rect x="160" y="620.20" width="1" height="5.76" fill="#68ae68"/>
<rect x="168" y="619.97" width="1" height="0.50" fill="#ff7474"/>
<rect x="177" y="620.20" width="1" height="1.53" fill="#68ae68"/>
<rect x="185" y="620.20" width="1" height="0.50" fill="#68ae68"/>
<rect x="194" y="620.00" width="1" height="0.50" fill="#ff7474"/>
<rect x="202" y="620.20" width="1" height="11.14" fill="#68ae68"/>
<rect x="210" y="620.20" width="1" height="15.53" fill="#68ae68"/>
<rect x="219" y="620.20" width="1" height="18.33" fill="#68ae68"/>
<rect x="228" y="620.20" width="1" height="15.58" fill="#68ae68"/>
<rect x="236" y="620.20" width="1" height="17.69" fill="#68ae68"/>
<rect x="245" y="620.20" width="1" height="18.45" fill="#68ae68"/>
<rect x="253" y="620.20" width="1" height="14.28" fill="#68ae68"/>
<rect x="262" y="620.20" width="1" height="8.00" fill="#68ae68"/>
<rect x="270" y="620.20" width="1" height="9.69" fill="#68ae68"/>
<rect x="278" y="620.20" width="1" height="4.62" fill="#68ae68"/>
<rect x="287" y="620.20" width="1" height="5.17" fill="#68ae68"/>
<rect x="295" y="620.20" width="1" height="5.28" fill="#68ae68"/>
<rect x="304" y="620.20" width="1" height="5.48" fill="#68ae68"/>
<rect x="313" y="620.20" width="1" height="1.12" fill="#68ae68"/>
<rect x="321" y="616.49" width="1" height="3.71" fill="#ff7474"/>
<rect x="330" y="617.52" width="1" height="2.68" fill="#ff7474"/>
<rect x="338" y="620.20" width="1" height="11.28" fill="#68ae68"/>
<rect x="347" y="620.20" width="1" height="33.08" fill="#68ae68"/>
<rect x="355" y="620.20" width="1" height="48.04" fill="#68ae68"/>
<rect x="363" y="620.20" width="1" height="46.80" fill="#68ae68"/>
<rect x="372" y="620.20" width="1" height="45.42" fill="#68ae68"/>
<rect x="380" y="620.20" width="1" height="31.24" fill="#68ae68"/>
<rect x="389" y="620.20" width="1" height="22.69" fill="#68ae68"/>
<rect x="398" y="620.20" width="1" height="10.95" fill="#68ae68"/>
<rect x="406" y="620.20" width="1" height="4.20" fill="#68ae68"/>
<rect x="415" y="620.20" width="1" height="0.50" fill="#68ae68"/>
<rect x="423" y="611.72" width="1" height="8.48" fill="#ff7474"/>
<rect x="431" y="600.49" width="1" height="19.71" fill="#ff7474"/>
<rect x="440" y="593.53" width="1" height="26.67" fill="#ff7474"/>
<rect x="448" y="591.50" width="1" height="28.70" fill="#ff7474"/>
<rect x="458" y="592.54" width="1" height="27.66" fill="#ff7474"/>
<rect x="466" y="594.17" width="1" height="26.03" fill="#ff7474"/>
<rect x="474" y="607.33" width="1" height="12.87" fill="#ff7474"/>
<rect x="483" y="610.02" width="1" height="10.18" fill="#ff7474"/>
<rect x="491" y="615.04" width="1" height="5.16" fill="#ff7474"/>
<rect x="500" y="620.20" width="1" height="4.15" fill="#68ae68"/>
<rect x="508" y="620.20" width="1" height="1.66" fill="#68ae68"/>
<rect x="517" y="614.02" width="1" height="6.18" fill="#ff7474"/>
<rect x="525" y="605.08" width="1" height="15.12" fill="#ff7474"/>
<rect x="534" y="606.20" width="1" height="14.00" fill="#ff7474"/>
<rect x="542" y="604.40" width="1" height="15.80" fill="#ff7474"/>
<rect x="550" y="602.76" width="1" height="17.44" fill="#ff7474"/>
<rect x="559" y="600.21" width="1" height="19.99" fill="#ff7474"/>
<rect x="568" y="596.00" width="1" height="24.20" fill="#ff7474"/>
<rect x="576" y="589.85" width="1" height="30.35" fill="#ff7474"/>
<rect x="585" y="590.03" width="1" height="30.17" fill="#ff7474"/>
<rect x="593" y="585.67" width="1" height="34.53" fill="#ff7474"/>
<rect x="602" y="576.23" width="1" height="43.97" fill="#ff7474"/>
<rect x="610" y="573.25" width="1" height="46.95" fill="#ff7474"/>
<rect x="618" y="571.47" width="1" height="48.73" fill="#ff7474"/>
<rect x="627" y="571.71" width="1" height="48.49" fill="#ff7474"/>
<rect x="635" y="573.16" width="1" height="47.04" fill="#ff7474"/>
<rect x="644" y="585.66" width="1" height="34.54" fill="#ff7474"/>
<rect x="653" y="597.34" width="1" height="22.86" fill="#ff7474"/>
<rect x="661" y="614.44" width="1" height="5.76" fill="#ff7474"/>
<rect x="670" y="620.20" width="1" height="5.07" fill="#68ae68"/>
<rect x="678" y="620.20" width="1" height="10.26" fill="#68ae68"/>
<rect x="687" y="620.20" width="1" height="11.60" fill="#68ae68"/>
<rect x="696" y="620.20" width="1" height="17.43" fill="#68ae68"/>
<rect x="704" y="620.20" width="1" height="25.74" fill="#68ae68"/>
<rect x="712" y="620.20" width="1" height="27.32" fill="#68ae68"/>
<rect x="720" y="620.20" width="1" height="37.93" fill="#68ae68"/>
<rect x="729" y="620.20" width="1" height="38.18" fill="#68ae68"/>
<rect x="738" y="620.20" width="1" height="33.01" fill="#68ae68"/>
<rect x="746" y="620.20" width="1" height="28.63" fill="#68ae68"/>
<rect x="755" y="620.20" width="1" height="31.70" fill="#68ae68"/>
<rect x="763" y="620.20" width="1" height="30.11" fill="#68ae68"/>
<rect x="772" y="620.20" width="1" height="28.41" fill="#68ae68"/>
<rect x="780" y="620.20" width="1" height="23.63" fill="#68ae68"/>
<rect x="788" y="620.20" width="1" height="20.12" fill="#68ae68"/>
<rect x="797" y="620.20" width="1" height="13.15" fill="#68ae68"/>
<rect x="805" y="620.20" width="1" height="9.05" fill="#68ae68"/>
<rect x="814" y="620.20" width="1" height="4.88" fill="#68ae68"/>
<rect x="823" y="620.20" width="1" height="3.90" fill="#68ae68"/>
<rect x="831" y="618.99" width="1" height="1.21" fill="#ff7474"/>
<rect x="840" y="617.65" width="1" height="2.55" fill="#ff7474"/>
<rect x="848" y="620.20" width="1" height="2.48" fill="#68ae68"/>
<rect x="857" y="620.20" width="1" height="12.41" fill="#68ae68"/>
<rect x="865" y="620.20" width="1" height="13.53" fill="#68ae68"/>
<rect x="873" y="620.20" width="1" height="13.80" fill="#68ae68"/>
<rect x="882" y="620.20" width="1" height="19.35" fill="#68ae68"/>
<rect x="890" y="620.20" width="1" height="22.84" fill="#68ae68"/>
<rect x="899" y="620.20" width="1" height="19.17" fill="#68ae68"/>
<rect x="908" y="620.20" width="1" height="21.18" fill="#68ae68"/>
<rect x="916" y="620.20" width="1" height="20.13" fill="#68ae68"/>
<rect x="925" y="620.20" width="1" height="16.82" fill="#68ae68"/>
<rect x="933" y="620.20" width="1" height="15.52" fill="#68ae68"/>
<rect x="942" y="620.20" width="1" height="7.26" fill="#68ae68"/>
<rect x="950" y="620.20" width="1" height="0.50" fill="#68ae68"/>
<rect x="958" y="616.55" width="1" height="3.65" fill="#ff7474"/>
<rect x="968" y="615.66" width="1" height="4.54" fill="#ff7474"/>
<rect x="975" y="612.61" width="1" height="7.59" fill="#ff7474"/>
<rect x="984" y="613.32" width="1" height="6.88" fill="#ff7474"/>
<rect x="993" y="607.50" width="1" height="12.70" fill="#ff7474"/>
<rect x="1001" y="600.75" width="1" height="19.45" fill="#ff7474"/>
<polyline points="7.50,589.73 15.50,585.35 24.50,581.91 32.50,579.59 40.50,578.05 50.50,577.02 57.50,576.83 66.50,577.09 75.50,577.30 83.50,577.97 92.50,579.66 100.50,582.74 108.50,586.50 117.50,590.57 125.50,594.59 134.50,597.88 142.50,600.41 151.50,602.36 160.50,603.08 168.50,603.05 177.50,603.24 185.50,603.25 194.50,603.23 202.50,604.62 210.50,606.56 219.50,608.85 228.50,610.80 236.50,613.01 245.50,615.32 253.50,617.10 262.50,618.10 270.50,619.31 278.50,619.89 287.50,620.54 295.50,621.20 304.50,621.88 313.50,622.02 321.50,621.56 330.50,621.22 338.50,622.64 347.50,626.77 355.50,632.78 363.50,638.63 372.50,644.30 380.50,648.21 389.50,651.04 398.50,652.41 406.50,652.94 415.50,652.97 423.50,651.91 431.50,649.45 440.50,646.11 448.50,642.53 458.50,639.07 466.50,635.82 474.50,634.21 483.50,632.94 491.50,632.29 500.50,632.81 508.50,633.02 517.50,632.24 525.50,630.35 534.50,628.60 542.50,626.63 550.50,624.45 559.50,621.95 568.50,618.92 576.50,615.13 585.50,611.36 593.50,607.04 602.50,601.55 610.50,595.68 618.50,589.59 627.50,583.52 635.50,577.64 644.50,573.33 653.50,570.47 661.50,569.75 670.50,570.38 678.50,571.66 687.50,573.11 696.50,575.29 704.50,578.51 712.50,581.93 720.50,586.67 729.50,591.44 738.50,595.57 746.50,599.14 755.50,603.11 763.50,606.87 772.50,610.42 780.50,613.38 788.50,615.89 797.50,617.54 805.50,618.67 814.50,619.28 823.50,619.76 831.50,619.61 840.50,619.29 848.50,619.60 857.50,621.16 865.50,622.85 873.50,624.57 882.50,626.99 890.50,629.85 899.50,632.24 908.50,634.89 916.50,637.41 925.50,639.51 933.50,641.45 942.50,642.36 950.50,642.40 958.50,641.94 968.50,641.37 975.50,640.43 984.50,639.57 993.50,637.98 1001.50,635.55" fill="none" stroke="#3a98e0" stroke-width="1.0" stroke-linejoin="round" />
<polyline points="7.50,571.50 15.50,567.81 24.50,568.14 32.50,570.29 40.50,571.93 50.50,572.90 57.50,576.08 66.50,578.11 75.50,578.12 83.50,580.66 92.50,586.42 100.50,595.06 108.50,601.55 117.50,606.84 125.50,610.69 134.50,611.02 142.50,610.53 151.50,610.17 160.50,605.96 168.50,602.94 177.50,604.01 185.50,603.28 194.50,603.13 202.50,610.19 210.50,614.33 219.50,618.02 228.50,618.59 236.50,621.85 245.50,624.55 253.50,624.25 262.50,622.10 270.50,624.16 278.50,622.20 287.50,623.13 295.50,623.84 304.50,624.62 313.50,622.58 321.50,619.71 330.50,619.88 338.50,628.28 347.50,643.31 355.50,656.80 363.50,662.03 372.50,667.01 380.50,663.83 389.50,662.39 398.50,657.89 406.50,655.04 415.50,653.12 423.50,647.67 431.50,639.59 440.50,632.78 448.50,628.18 458.50,625.24 466.50,622.80 474.50,627.77 483.50,627.85 491.50,629.71 500.50,634.89 508.50,633.85 517.50,629.15 525.50,622.79 534.50,621.60 542.50,618.73 550.50,615.73 559.50,611.95 568.50,606.82 576.50,599.95 585.50,596.27 593.50,589.78 602.50,579.56 610.50,572.20 618.50,565.22 627.50,559.28 635.50,554.12 644.50,556.05 653.50,559.04 661.50,566.87 670.50,572.92 678.50,576.79 687.50,578.91 696.50,584.01 704.50,591.38 712.50,595.58 720.50,605.63 729.50,610.53 738.50,612.07 746.50,613.46 755.50,618.96 763.50,621.92 772.50,624.63 780.50,625.19 788.50,625.95 797.50,624.11 805.50,623.19 814.50,621.72 823.50,621.72 831.50,619.01 840.50,618.02 848.50,620.85 857.50,627.36 865.50,629.61 873.50,631.47 882.50,636.67 890.50,641.27 899.50,641.83 908.50,645.48 916.50,647.47 925.50,647.92 933.50,649.21 942.50,645.99 950.50,642.57 958.50,640.12 968.50,639.11 975.50,636.63 984.50,636.13 993.50,631.63 1001.50,625.82" fill="none" stroke="#4a4a4a" stroke-width="1.0" stroke-linejoin="round" />
<polygon points="1030.1,573.9 1030.1,587.2 1026.2,586.9 1002.2,629.9 1022.1,584.4 1019.3,582.3" fill="#ff3030"/>
<rect x="1041" y="651.5" width="35" height="11.8" fill="#b2eeee"/>
<rect x="1041" y="651.2" width="35" height="0.9" fill="#c8c8c8"/>
<circle cx="8.6" cy="544.3" r="4.1" fill="#707070"/>
<path d="M6.7,543.4 L8.6,545.3 L10.5,543.4" stroke="#fff" stroke-width="1.1" fill="none"/>
<rect x="192.0" y="671.5" width="1" height="12" fill="#d0d0d0"/>
<rect x="379.0" y="671.5" width="1" height="12" fill="#d0d0d0"/>
<rect x="566.8" y="671.5" width="1" height="12" fill="#d0d0d0"/>
<rect x="736.8" y="671.5" width="1" height="12" fill="#d0d0d0"/>
<rect x="872.1" y="671.5" width="1" height="12" fill="#d0d0d0"/>
<rect x="239.5" y="671.5" width="1" height="2.5" fill="#d8d8d8"/>
<rect x="286.2" y="671.5" width="1" height="2.5" fill="#d8d8d8"/>
<rect x="332.8" y="671.5" width="1" height="2.5" fill="#d8d8d8"/>
<rect x="426.2" y="671.5" width="1" height="2.5" fill="#d8d8d8"/>
<rect x="609.5" y="671.5" width="1" height="2.5" fill="#d8d8d8"/>
<rect x="652.2" y="671.5" width="1" height="2.5" fill="#d8d8d8"/>
<rect x="694.5" y="671.5" width="1" height="2.5" fill="#d8d8d8"/>
<rect x="771.2" y="671.5" width="1" height="2.5" fill="#d8d8d8"/>
<rect x="805.5" y="671.5" width="1" height="2.5" fill="#d8d8d8"/>
<rect x="839.5" y="671.5" width="1" height="2.5" fill="#d8d8d8"/>
<rect x="470" y="671.8" width="62" height="12" fill="#b2eeee"/>
<text x="4.52" y="12.9" fill="#555555" stroke="#555555" stroke-width="0.25" font-size="9.6" textLength="60.01" lengthAdjust="spacingAndGlyphs"><tspan font-size="8.8">上证指数</tspan>(<tspan font-size="8.8">日线</tspan>)</text>
<text x="81.23" y="12.9" fill="#505050" stroke="#505050" stroke-width="0.25" font-size="10.0" textLength="58.17" lengthAdjust="spacingAndGlyphs">MA5: 3544.56</text>
<text x="142.95" y="12.9" fill="#3a98e0" stroke="#3a98e0" stroke-width="0.25" font-size="10.0" textLength="62.90" lengthAdjust="spacingAndGlyphs">MA10: 3532.75</text>
<text x="208.95" y="12.9" fill="#a03aaa" stroke="#a03aaa" stroke-width="0.25" font-size="10.0" textLength="63.52" lengthAdjust="spacingAndGlyphs">MA20: 3530.94</text>
<text x="276.35" y="12.9" fill="#9a9a9a" stroke="#9a9a9a" stroke-width="0.25" font-size="10.0" textLength="62.81" lengthAdjust="spacingAndGlyphs">MA60: 3569.62</text>
<text x="342.95" y="12.9" fill="#2f8f2f" stroke="#2f8f2f" stroke-width="0.25" font-size="10.0" textLength="68.62" lengthAdjust="spacingAndGlyphs">MA120: 3551.90</text>
<text x="415.25" y="12.9" fill="#50d0d8" stroke="#50d0d8" stroke-width="0.25" font-size="10.0" textLength="68.11" lengthAdjust="spacingAndGlyphs">MA250: 3508.90</text>
<text x="16.35" y="413.4" fill="#505050" stroke="#505050" stroke-width="0.25" font-size="10.0" textLength="61.55" lengthAdjust="spacingAndGlyphs">VOL-TDX(5,10)</text>
<text x="82.04" y="413.4" fill="#505050" stroke="#505050" stroke-width="0.25" font-size="10.0" textLength="87.67" lengthAdjust="spacingAndGlyphs">VVOL: 328690848.00</text>
<text x="176.73" y="413.4" fill="#3a98e0" stroke="#3a98e0" stroke-width="0.25" font-size="10.0" textLength="101.80" lengthAdjust="spacingAndGlyphs">VOLUME: 328690848.00</text>
<text x="282.35" y="413.4" fill="#3a98e0" stroke="#3a98e0" stroke-width="0.25" font-size="10.0" textLength="83.15" lengthAdjust="spacingAndGlyphs">MA5: 309248640.00</text>
<text x="369.45" y="413.4" fill="#a03aaa" stroke="#a03aaa" stroke-width="0.25" font-size="10.0" textLength="88.05" lengthAdjust="spacingAndGlyphs">MA10: 308437888.00</text>
<text x="16.33" y="546.9" fill="#505050" stroke="#505050" stroke-width="0.25" font-size="10.0" textLength="63.13" lengthAdjust="spacingAndGlyphs">MACD(12,26,9)</text>
<text x="82.54" y="546.9" fill="#505050" stroke="#505050" stroke-width="0.25" font-size="10.0" textLength="40.91" lengthAdjust="spacingAndGlyphs">DIF: -4.48</text>
<text x="126.74" y="546.9" fill="#3a98e0" stroke="#3a98e0" stroke-width="0.25" font-size="10.0" textLength="48.83" lengthAdjust="spacingAndGlyphs">DEA: -12.34</text>
<text x="179.22" y="546.9" fill="#a03aaa" stroke="#a03aaa" stroke-width="0.25" font-size="10.0" textLength="55.64" lengthAdjust="spacingAndGlyphs">MACD: 15.71</text>
<text x="3.07" y="109.0" fill="#ff3a3a" stroke="#ff3a3a" stroke-width="0.15" font-size="9.4" textLength="52.99" lengthAdjust="spacingAndGlyphs">25.0% 3620.85</text>
<text x="3.08" y="139.9" fill="#ff3a3a" stroke="#ff3a3a" stroke-width="0.15" font-size="9.4" textLength="52.98" lengthAdjust="spacingAndGlyphs">33.3% 3586.66</text>
<text x="2.72" y="201.7" fill="#ff3a3a" stroke="#ff3a3a" stroke-width="0.15" font-size="9.4" textLength="53.36" lengthAdjust="spacingAndGlyphs">50.0% 3517.85</text>
<text x="2.80" y="386.0" fill="#ff3a3a" stroke="#ff3a3a" stroke-width="0.15" font-size="9.4" textLength="51.20" lengthAdjust="spacingAndGlyphs">100% 3311.85</text>
<text x="654.63" y="27.0" fill="#4a4a5a" stroke="#4a4a5a" stroke-width="0.15" font-size="9.6" textLength="32.52" lengthAdjust="spacingAndGlyphs">3723.85</text>
<text x="364.79" y="390.9" fill="#4a4a5a" stroke="#4a4a5a" stroke-width="0.15" font-size="9.6" textLength="33.49" lengthAdjust="spacingAndGlyphs">3312.72</text>
<text x="1041.31" y="533.8" fill="#707070" stroke="#707070" stroke-width="0.15" font-size="10.4" textLength="20.20" lengthAdjust="spacingAndGlyphs">X1<tspan font-size="9.4">万</tspan></text>
<text x="1040.37" y="659.7" fill="#4a4a4a" stroke="#4a4a4a" stroke-width="0.15" font-size="9.6" textLength="21.05" lengthAdjust="spacingAndGlyphs">-34.0</text>
<text x="6.11" y="681.1" fill="#7e7e7e" stroke="#7e7e7e" stroke-width="0.15" font-size="10.2" textLength="29.79" lengthAdjust="spacingAndGlyphs">2021<tspan font-size="9.2">年</tspan></text>
<text x="470.18" y="680.9" fill="#404040" stroke="#404040" stroke-width="0.15" font-size="10.0" textLength="61.30" lengthAdjust="spacingAndGlyphs">2021/08/17/<tspan font-size="9.2">二</tspan></text>
<text x="1048.48" y="680.6" fill="#606060" stroke="#606060" stroke-width="0.15" font-size="9.2" textLength="18.89" lengthAdjust="spacingAndGlyphs"><tspan font-size="9.2">日线</tspan></text>
<text x="1052.51" y="43.3" fill="#7e7e7e" stroke="#7e7e7e" stroke-width="0" font-size="9.8" textLength="20.98" lengthAdjust="spacingAndGlyphs">3700</text>
<text x="1052.51" y="66.2" fill="#7e7e7e" stroke="#7e7e7e" stroke-width="0" font-size="9.8" textLength="21.03" lengthAdjust="spacingAndGlyphs">3675</text>
<text x="1052.52" y="88.1" fill="#7e7e7e" stroke="#7e7e7e" stroke-width="0" font-size="9.8" textLength="20.97" lengthAdjust="spacingAndGlyphs">3650</text>
<text x="1052.51" y="110.9" fill="#7e7e7e" stroke="#7e7e7e" stroke-width="0" font-size="9.8" textLength="21.03" lengthAdjust="spacingAndGlyphs">3625</text>
<text x="1052.51" y="133.4" fill="#7e7e7e" stroke="#7e7e7e" stroke-width="0" font-size="9.8" textLength="20.98" lengthAdjust="spacingAndGlyphs">3600</text>
<text x="1052.51" y="156.8" fill="#7e7e7e" stroke="#7e7e7e" stroke-width="0" font-size="9.8" textLength="21.03" lengthAdjust="spacingAndGlyphs">3575</text>
<text x="1052.52" y="179.3" fill="#7e7e7e" stroke="#7e7e7e" stroke-width="0" font-size="9.8" textLength="20.97" lengthAdjust="spacingAndGlyphs">3550</text>
<text x="1052.51" y="201.8" fill="#7e7e7e" stroke="#7e7e7e" stroke-width="0" font-size="9.8" textLength="21.03" lengthAdjust="spacingAndGlyphs">3525</text>
<text x="1052.51" y="223.4" fill="#7e7e7e" stroke="#7e7e7e" stroke-width="0" font-size="9.8" textLength="20.98" lengthAdjust="spacingAndGlyphs">3500</text>
<text x="1052.50" y="246.7" fill="#7e7e7e" stroke="#7e7e7e" stroke-width="0" font-size="9.8" textLength="21.05" lengthAdjust="spacingAndGlyphs">3475</text>
<text x="1052.50" y="268.4" fill="#7e7e7e" stroke="#7e7e7e" stroke-width="0" font-size="9.8" textLength="21.01" lengthAdjust="spacingAndGlyphs">3450</text>
<text x="1052.50" y="290.9" fill="#7e7e7e" stroke="#7e7e7e" stroke-width="0" font-size="9.8" textLength="21.05" lengthAdjust="spacingAndGlyphs">3425</text>
<text x="1052.50" y="313.0" fill="#7e7e7e" stroke="#7e7e7e" stroke-width="0" font-size="9.8" textLength="21.01" lengthAdjust="spacingAndGlyphs">3400</text>
<text x="1052.51" y="335.9" fill="#7e7e7e" stroke="#7e7e7e" stroke-width="0" font-size="9.8" textLength="21.03" lengthAdjust="spacingAndGlyphs">3375</text>
<text x="1052.52" y="356.95" fill="#7e7e7e" stroke="#7e7e7e" stroke-width="0" font-size="9.8" textLength="20.97" lengthAdjust="spacingAndGlyphs">3350</text>
<text x="1047.59" y="434.95" fill="#7e7e7e" stroke="#7e7e7e" stroke-width="0" font-size="9.8" textLength="26.06" lengthAdjust="spacingAndGlyphs">60000</text>
<text x="1047.52" y="459.9" fill="#7e7e7e" stroke="#7e7e7e" stroke-width="0" font-size="9.8" textLength="26.16" lengthAdjust="spacingAndGlyphs">45000</text>
<text x="1047.51" y="486.3" fill="#7e7e7e" stroke="#7e7e7e" stroke-width="0" font-size="9.8" textLength="26.14" lengthAdjust="spacingAndGlyphs">30000</text>
<text x="1047.45" y="512.1" fill="#7e7e7e" stroke="#7e7e7e" stroke-width="0" font-size="9.8" textLength="26.21" lengthAdjust="spacingAndGlyphs">15000</text>
<text x="1050.73" y="573.1" fill="#7e7e7e" stroke="#7e7e7e" stroke-width="0" font-size="9.8" textLength="23.11" lengthAdjust="spacingAndGlyphs">40.00</text>
<text x="1050.71" y="597.9" fill="#7e7e7e" stroke="#7e7e7e" stroke-width="0" font-size="9.8" textLength="23.09" lengthAdjust="spacingAndGlyphs">20.00</text>
<text x="1055.78" y="623.2" fill="#7e7e7e" stroke="#7e7e7e" stroke-width="0" font-size="9.8" textLength="17.85" lengthAdjust="spacingAndGlyphs">0.00</text>
<text x="193.6" y="681.0" fill="#7e7e7e" font-size="10.4" textLength="4.6" lengthAdjust="spacingAndGlyphs">7</text>
<text x="380.4" y="681.0" fill="#7e7e7e" font-size="10.4" textLength="4.6" lengthAdjust="spacingAndGlyphs">8</text>
<text x="567.8" y="681.0" fill="#7e7e7e" font-size="10.4" textLength="4.6" lengthAdjust="spacingAndGlyphs">9</text>
<text x="738.0" y="681.0" fill="#7e7e7e" font-size="10.4" textLength="9.2" lengthAdjust="spacingAndGlyphs">10</text>
<text x="873.8" y="681.0" fill="#7e7e7e" font-size="10.4" textLength="9.2" lengthAdjust="spacingAndGlyphs">11</text>
</svg>
</body></html>
